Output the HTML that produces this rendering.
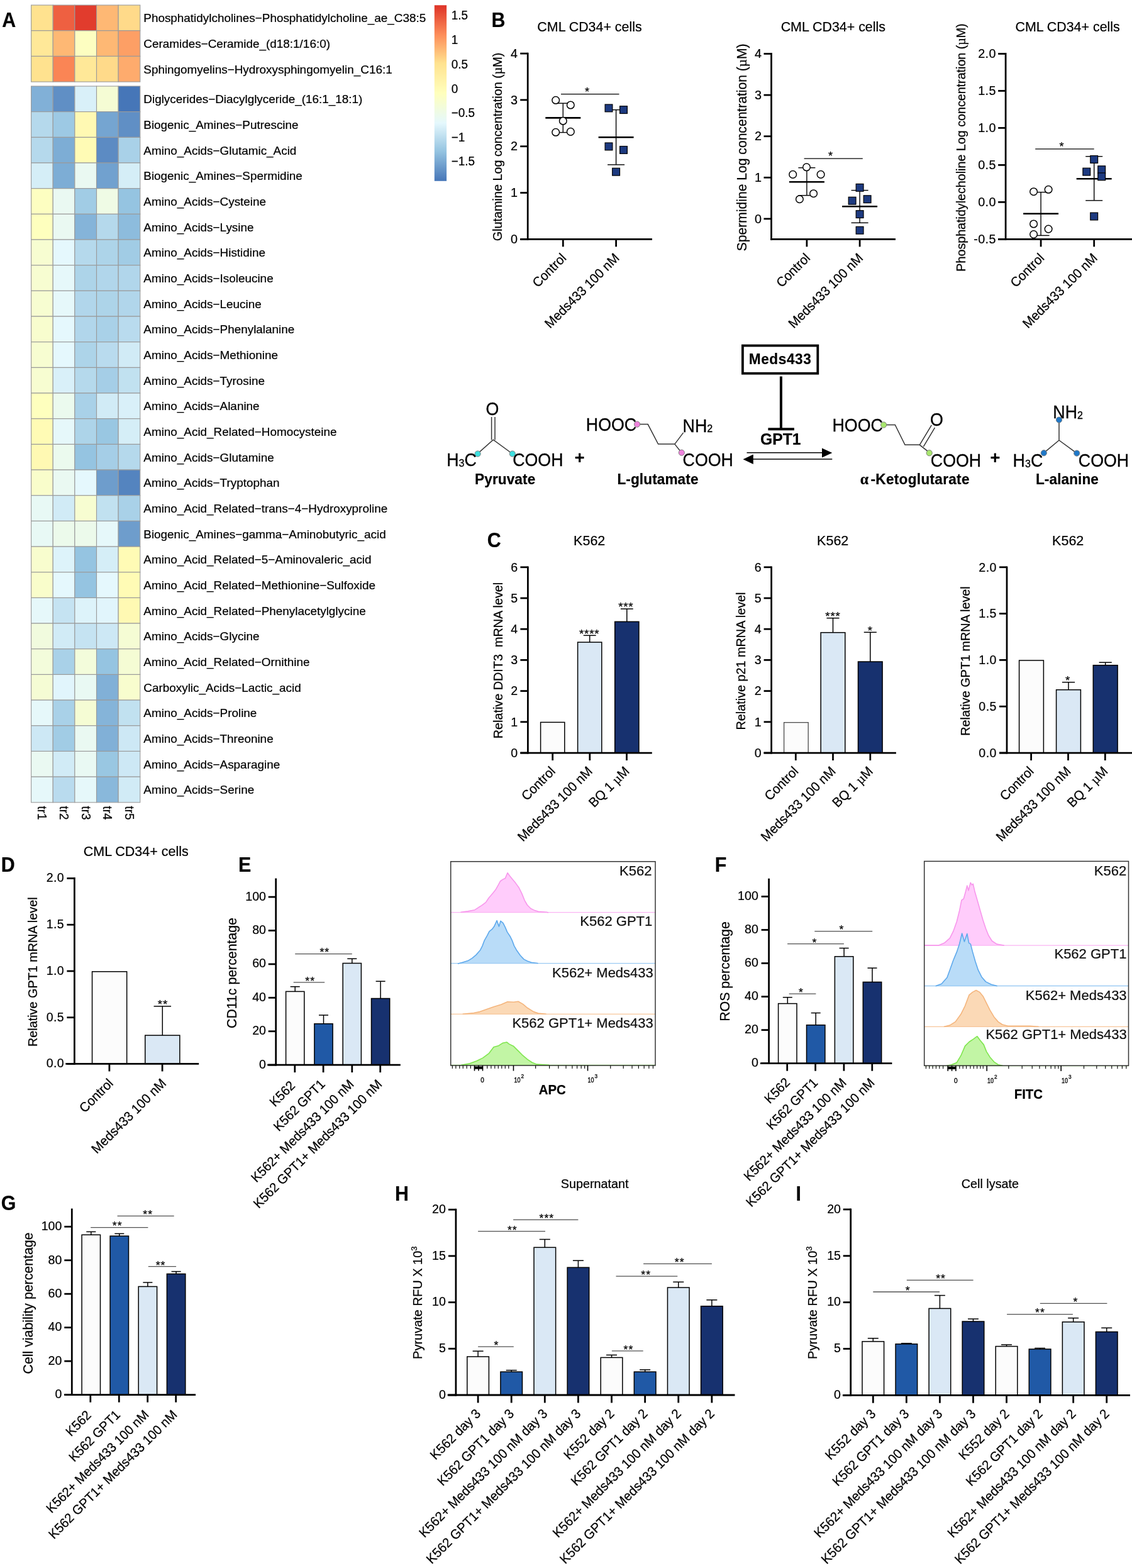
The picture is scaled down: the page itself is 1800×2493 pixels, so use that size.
<!DOCTYPE html>
<html lang="en">
<head>
<meta charset="utf-8">
<title>Figure</title>
<style>
html,body{margin:0;padding:0;background:#fff;}
body{width:1800px;height:2493px;overflow:hidden;}
svg{display:block;font-family:"Liberation Sans", sans-serif;fill:#000;}
text{stroke:#000;stroke-width:0.22px;}
</style>
</head>
<body>
<svg width="1800" height="2493" viewBox="0 0 1800 2493">
<rect width="1800" height="2493" fill="#fff"/>
<g id="panelA">
<text transform="translate(3.2 42.8) scale(1 1.08)" font-size="30.4" font-weight="bold" fill="#000">A</text>
<g stroke="#9a9a9a" stroke-width="1.1">
<rect x="49.6" y="8.1" width="34.64" height="40.67" fill="#ffe28f"/>
<rect x="84.24" y="8.1" width="34.64" height="40.67" fill="#ee6041"/>
<rect x="118.88" y="8.1" width="34.64" height="40.67" fill="#e13c2d"/>
<rect x="153.52" y="8.1" width="34.64" height="40.67" fill="#feb874"/>
<rect x="188.16" y="8.1" width="34.64" height="40.67" fill="#ffda8a"/>
<rect x="49.6" y="48.77" width="34.64" height="40.67" fill="#ffe898"/>
<rect x="84.24" y="48.77" width="34.64" height="40.67" fill="#feb874"/>
<rect x="118.88" y="48.77" width="34.64" height="40.67" fill="#fdfec1"/>
<rect x="153.52" y="48.77" width="34.64" height="40.67" fill="#feb874"/>
<rect x="188.16" y="48.77" width="34.64" height="40.67" fill="#fd9f65"/>
<rect x="49.6" y="89.43" width="34.64" height="40.67" fill="#ffe28f"/>
<rect x="84.24" y="89.43" width="34.64" height="40.67" fill="#fa8555"/>
<rect x="118.88" y="89.43" width="34.64" height="40.67" fill="#ffe898"/>
<rect x="153.52" y="89.43" width="34.64" height="40.67" fill="#ffda8a"/>
<rect x="188.16" y="89.43" width="34.64" height="40.67" fill="#feab6d"/>
<rect x="49.6" y="137" width="34.64" height="40.67" fill="#81b0d7"/>
<rect x="84.24" y="137" width="34.64" height="40.67" fill="#608fc5"/>
<rect x="118.88" y="137" width="34.64" height="40.67" fill="#d9f0f9"/>
<rect x="153.52" y="137" width="34.64" height="40.67" fill="#f5fcd4"/>
<rect x="188.16" y="137" width="34.64" height="40.67" fill="#4676b8"/>
<rect x="49.6" y="177.67" width="34.64" height="40.67" fill="#b5d9ec"/>
<rect x="84.24" y="177.67" width="34.64" height="40.67" fill="#9dc9e4"/>
<rect x="118.88" y="177.67" width="34.64" height="40.67" fill="#fff9b3"/>
<rect x="153.52" y="177.67" width="34.64" height="40.67" fill="#75a5d1"/>
<rect x="188.16" y="177.67" width="34.64" height="40.67" fill="#608fc5"/>
<rect x="49.6" y="218.34" width="34.64" height="40.67" fill="#b5d9ec"/>
<rect x="84.24" y="218.34" width="34.64" height="40.67" fill="#7dadd5"/>
<rect x="118.88" y="218.34" width="34.64" height="40.67" fill="#fffbb5"/>
<rect x="153.52" y="218.34" width="34.64" height="40.67" fill="#5c8bc3"/>
<rect x="188.16" y="218.34" width="34.64" height="40.67" fill="#a9d1e8"/>
<rect x="49.6" y="259.01" width="34.64" height="40.67" fill="#d5eef7"/>
<rect x="84.24" y="259.01" width="34.64" height="40.67" fill="#7dadd5"/>
<rect x="118.88" y="259.01" width="34.64" height="40.67" fill="#eaf9f2"/>
<rect x="153.52" y="259.01" width="34.64" height="40.67" fill="#71a1cf"/>
<rect x="188.16" y="259.01" width="34.64" height="40.67" fill="#d5eef7"/>
<rect x="49.6" y="299.69" width="34.64" height="40.67" fill="#fdfec1"/>
<rect x="84.24" y="299.69" width="34.64" height="40.67" fill="#eaf9f2"/>
<rect x="118.88" y="299.69" width="34.64" height="40.67" fill="#a1cce5"/>
<rect x="153.52" y="299.69" width="34.64" height="40.67" fill="#effbe5"/>
<rect x="188.16" y="299.69" width="34.64" height="40.67" fill="#95c4e1"/>
<rect x="49.6" y="340.36" width="34.64" height="40.67" fill="#feffbe"/>
<rect x="84.24" y="340.36" width="34.64" height="40.67" fill="#eaf9f2"/>
<rect x="118.88" y="340.36" width="34.64" height="40.67" fill="#85b4d9"/>
<rect x="153.52" y="340.36" width="34.64" height="40.67" fill="#b5d9ec"/>
<rect x="188.16" y="340.36" width="34.64" height="40.67" fill="#8dbcdd"/>
<rect x="49.6" y="381.03" width="34.64" height="40.67" fill="#f7fdd1"/>
<rect x="84.24" y="381.03" width="34.64" height="40.67" fill="#e5f8fd"/>
<rect x="118.88" y="381.03" width="34.64" height="40.67" fill="#b5d9ec"/>
<rect x="153.52" y="381.03" width="34.64" height="40.67" fill="#add4e9"/>
<rect x="188.16" y="381.03" width="34.64" height="40.67" fill="#a1cce5"/>
<rect x="49.6" y="421.7" width="34.64" height="40.67" fill="#f7fdd1"/>
<rect x="84.24" y="421.7" width="34.64" height="40.67" fill="#e6f8fa"/>
<rect x="118.88" y="421.7" width="34.64" height="40.67" fill="#add4e9"/>
<rect x="153.52" y="421.7" width="34.64" height="40.67" fill="#b1d6eb"/>
<rect x="188.16" y="421.7" width="34.64" height="40.67" fill="#b1d6eb"/>
<rect x="49.6" y="462.37" width="34.64" height="40.67" fill="#f7fdd1"/>
<rect x="84.24" y="462.37" width="34.64" height="40.67" fill="#e6f8fa"/>
<rect x="118.88" y="462.37" width="34.64" height="40.67" fill="#b1d6eb"/>
<rect x="153.52" y="462.37" width="34.64" height="40.67" fill="#add4e9"/>
<rect x="188.16" y="462.37" width="34.64" height="40.67" fill="#b1d6eb"/>
<rect x="49.6" y="503.04" width="34.64" height="40.67" fill="#f8fdce"/>
<rect x="84.24" y="503.04" width="34.64" height="40.67" fill="#e5f8fd"/>
<rect x="118.88" y="503.04" width="34.64" height="40.67" fill="#b1d6eb"/>
<rect x="153.52" y="503.04" width="34.64" height="40.67" fill="#a9d1e8"/>
<rect x="188.16" y="503.04" width="34.64" height="40.67" fill="#b9dbee"/>
<rect x="49.6" y="543.71" width="34.64" height="40.67" fill="#f7fdd1"/>
<rect x="84.24" y="543.71" width="34.64" height="40.67" fill="#e5f8fd"/>
<rect x="118.88" y="543.71" width="34.64" height="40.67" fill="#add4e9"/>
<rect x="153.52" y="543.71" width="34.64" height="40.67" fill="#b9dbee"/>
<rect x="188.16" y="543.71" width="34.64" height="40.67" fill="#d1ebf6"/>
<rect x="49.6" y="584.39" width="34.64" height="40.67" fill="#f7fdd1"/>
<rect x="84.24" y="584.39" width="34.64" height="40.67" fill="#d9f0f9"/>
<rect x="118.88" y="584.39" width="34.64" height="40.67" fill="#b5d9ec"/>
<rect x="153.52" y="584.39" width="34.64" height="40.67" fill="#a5cee7"/>
<rect x="188.16" y="584.39" width="34.64" height="40.67" fill="#c1e1f0"/>
<rect x="49.6" y="625.06" width="34.64" height="40.67" fill="#feffbe"/>
<rect x="84.24" y="625.06" width="34.64" height="40.67" fill="#ebfaee"/>
<rect x="118.88" y="625.06" width="34.64" height="40.67" fill="#a9d1e8"/>
<rect x="153.52" y="625.06" width="34.64" height="40.67" fill="#d1ebf6"/>
<rect x="188.16" y="625.06" width="34.64" height="40.67" fill="#d9f0f9"/>
<rect x="49.6" y="665.73" width="34.64" height="40.67" fill="#fffbb5"/>
<rect x="84.24" y="665.73" width="34.64" height="40.67" fill="#e6f8fa"/>
<rect x="118.88" y="665.73" width="34.64" height="40.67" fill="#add4e9"/>
<rect x="153.52" y="665.73" width="34.64" height="40.67" fill="#99c7e2"/>
<rect x="188.16" y="665.73" width="34.64" height="40.67" fill="#d5eef7"/>
<rect x="49.6" y="706.4" width="34.64" height="40.67" fill="#fff9b3"/>
<rect x="84.24" y="706.4" width="34.64" height="40.67" fill="#ebfaee"/>
<rect x="118.88" y="706.4" width="34.64" height="40.67" fill="#95c4e1"/>
<rect x="153.52" y="706.4" width="34.64" height="40.67" fill="#a5cee7"/>
<rect x="188.16" y="706.4" width="34.64" height="40.67" fill="#b5d9ec"/>
<rect x="49.6" y="747.07" width="34.64" height="40.67" fill="#f9fdcb"/>
<rect x="84.24" y="747.07" width="34.64" height="40.67" fill="#eaf9f2"/>
<rect x="118.88" y="747.07" width="34.64" height="40.67" fill="#e5f8fd"/>
<rect x="153.52" y="747.07" width="34.64" height="40.67" fill="#6e9dcc"/>
<rect x="188.16" y="747.07" width="34.64" height="40.67" fill="#5484bf"/>
<rect x="49.6" y="787.74" width="34.64" height="40.67" fill="#e8f9f5"/>
<rect x="84.24" y="787.74" width="34.64" height="40.67" fill="#d1ebf6"/>
<rect x="118.88" y="787.74" width="34.64" height="40.67" fill="#f7fdd1"/>
<rect x="153.52" y="787.74" width="34.64" height="40.67" fill="#c1e1f0"/>
<rect x="188.16" y="787.74" width="34.64" height="40.67" fill="#a9d1e8"/>
<rect x="49.6" y="828.41" width="34.64" height="40.67" fill="#e8f9f5"/>
<rect x="84.24" y="828.41" width="34.64" height="40.67" fill="#ecfaeb"/>
<rect x="118.88" y="828.41" width="34.64" height="40.67" fill="#ecfaeb"/>
<rect x="153.52" y="828.41" width="34.64" height="40.67" fill="#e6f8fa"/>
<rect x="188.16" y="828.41" width="34.64" height="40.67" fill="#6e9dcc"/>
<rect x="49.6" y="869.09" width="34.64" height="40.67" fill="#f8fdce"/>
<rect x="84.24" y="869.09" width="34.64" height="40.67" fill="#ddf3fa"/>
<rect x="118.88" y="869.09" width="34.64" height="40.67" fill="#95c4e1"/>
<rect x="153.52" y="869.09" width="34.64" height="40.67" fill="#d5eef7"/>
<rect x="188.16" y="869.09" width="34.64" height="40.67" fill="#fffbb5"/>
<rect x="49.6" y="909.76" width="34.64" height="40.67" fill="#f9fdcb"/>
<rect x="84.24" y="909.76" width="34.64" height="40.67" fill="#e5f8fd"/>
<rect x="118.88" y="909.76" width="34.64" height="40.67" fill="#95c4e1"/>
<rect x="153.52" y="909.76" width="34.64" height="40.67" fill="#e5f8fd"/>
<rect x="188.16" y="909.76" width="34.64" height="40.67" fill="#fffbb5"/>
<rect x="49.6" y="950.43" width="34.64" height="40.67" fill="#e6f8fa"/>
<rect x="84.24" y="950.43" width="34.64" height="40.67" fill="#c5e3f2"/>
<rect x="118.88" y="950.43" width="34.64" height="40.67" fill="#ddf3fa"/>
<rect x="153.52" y="950.43" width="34.64" height="40.67" fill="#e1f5fc"/>
<rect x="188.16" y="950.43" width="34.64" height="40.67" fill="#fff9b3"/>
<rect x="49.6" y="991.1" width="34.64" height="40.67" fill="#f1fbde"/>
<rect x="84.24" y="991.1" width="34.64" height="40.67" fill="#d1ebf6"/>
<rect x="118.88" y="991.1" width="34.64" height="40.67" fill="#c5e3f2"/>
<rect x="153.52" y="991.1" width="34.64" height="40.67" fill="#cde8f5"/>
<rect x="188.16" y="991.1" width="34.64" height="40.67" fill="#f5fcd4"/>
<rect x="49.6" y="1031.77" width="34.64" height="40.67" fill="#f3fcdb"/>
<rect x="84.24" y="1031.77" width="34.64" height="40.67" fill="#a9d1e8"/>
<rect x="118.88" y="1031.77" width="34.64" height="40.67" fill="#f3fcdb"/>
<rect x="153.52" y="1031.77" width="34.64" height="40.67" fill="#95c4e1"/>
<rect x="188.16" y="1031.77" width="34.64" height="40.67" fill="#f5fcd4"/>
<rect x="49.6" y="1072.44" width="34.64" height="40.67" fill="#f5fcd4"/>
<rect x="84.24" y="1072.44" width="34.64" height="40.67" fill="#e1f5fc"/>
<rect x="118.88" y="1072.44" width="34.64" height="40.67" fill="#e9f9f3"/>
<rect x="153.52" y="1072.44" width="34.64" height="40.67" fill="#81b0d7"/>
<rect x="188.16" y="1072.44" width="34.64" height="40.67" fill="#f8fdce"/>
<rect x="49.6" y="1113.11" width="34.64" height="40.67" fill="#e6f8fa"/>
<rect x="84.24" y="1113.11" width="34.64" height="40.67" fill="#a9d1e8"/>
<rect x="118.88" y="1113.11" width="34.64" height="40.67" fill="#f5fcd4"/>
<rect x="153.52" y="1113.11" width="34.64" height="40.67" fill="#85b4d9"/>
<rect x="188.16" y="1113.11" width="34.64" height="40.67" fill="#c1e1f0"/>
<rect x="49.6" y="1153.79" width="34.64" height="40.67" fill="#cde8f5"/>
<rect x="84.24" y="1153.79" width="34.64" height="40.67" fill="#a1cce5"/>
<rect x="118.88" y="1153.79" width="34.64" height="40.67" fill="#eaf9f2"/>
<rect x="153.52" y="1153.79" width="34.64" height="40.67" fill="#81b0d7"/>
<rect x="188.16" y="1153.79" width="34.64" height="40.67" fill="#cde8f5"/>
<rect x="49.6" y="1194.46" width="34.64" height="40.67" fill="#eaf9f2"/>
<rect x="84.24" y="1194.46" width="34.64" height="40.67" fill="#d1ebf6"/>
<rect x="118.88" y="1194.46" width="34.64" height="40.67" fill="#e9f9f3"/>
<rect x="153.52" y="1194.46" width="34.64" height="40.67" fill="#99c7e2"/>
<rect x="188.16" y="1194.46" width="34.64" height="40.67" fill="#cde8f5"/>
<rect x="49.6" y="1235.13" width="34.64" height="40.67" fill="#e6f8fa"/>
<rect x="84.24" y="1235.13" width="34.64" height="40.67" fill="#b9dbee"/>
<rect x="118.88" y="1235.13" width="34.64" height="40.67" fill="#e6f8fa"/>
<rect x="153.52" y="1235.13" width="34.64" height="40.67" fill="#89b8db"/>
<rect x="188.16" y="1235.13" width="34.64" height="40.67" fill="#d1ebf6"/>
</g>
<g font-size="18.9">
<text x="228.3" y="35.28">Phosphatidylcholines−Phosphatidylcholine_ae_C38:5</text>
<text x="228.3" y="75.95">Ceramides−Ceramide_(d18:1/16:0)</text>
<text x="228.3" y="116.62">Sphingomyelins−Hydroxysphingomyelin_C16:1</text>
<text x="228.3" y="164.19">Diglycerides−Diacylglyceride_(16:1_18:1)</text>
<text x="228.3" y="204.86">Biogenic_Amines−Putrescine</text>
<text x="228.3" y="245.53">Amino_Acids−Glutamic_Acid</text>
<text x="228.3" y="286.2">Biogenic_Amines−Spermidine</text>
<text x="228.3" y="326.87">Amino_Acids−Cysteine</text>
<text x="228.3" y="367.54">Amino_Acids−Lysine</text>
<text x="228.3" y="408.21">Amino_Acids−Histidine</text>
<text x="228.3" y="448.89">Amino_Acids−Isoleucine</text>
<text x="228.3" y="489.56">Amino_Acids−Leucine</text>
<text x="228.3" y="530.23">Amino_Acids−Phenylalanine</text>
<text x="228.3" y="570.9">Amino_Acids−Methionine</text>
<text x="228.3" y="611.57">Amino_Acids−Tyrosine</text>
<text x="228.3" y="652.24">Amino_Acids−Alanine</text>
<text x="228.3" y="692.91">Amino_Acid_Related−Homocysteine</text>
<text x="228.3" y="733.59">Amino_Acids−Glutamine</text>
<text x="228.3" y="774.26">Amino_Acids−Tryptophan</text>
<text x="228.3" y="814.93">Amino_Acid_Related−trans−4−Hydroxyproline</text>
<text x="228.3" y="855.6">Biogenic_Amines−gamma−Aminobutyric_acid</text>
<text x="228.3" y="896.27">Amino_Acid_Related−5−Aminovaleric_acid</text>
<text x="228.3" y="936.94">Amino_Acid_Related−Methionine−Sulfoxide</text>
<text x="228.3" y="977.61">Amino_Acid_Related−Phenylacetylglycine</text>
<text x="228.3" y="1018.29">Amino_Acids−Glycine</text>
<text x="228.3" y="1058.96">Amino_Acid_Related−Ornithine</text>
<text x="228.3" y="1099.63">Carboxylic_Acids−Lactic_acid</text>
<text x="228.3" y="1140.3">Amino_Acids−Proline</text>
<text x="228.3" y="1180.97">Amino_Acids−Threonine</text>
<text x="228.3" y="1221.64">Amino_Acids−Asparagine</text>
<text x="228.3" y="1262.31">Amino_Acids−Serine</text>
</g>
<text transform="translate(60.42 1281.5) rotate(90) scale(1 1.04)" font-size="18.9">tr1</text>
<text transform="translate(95.06 1281.5) rotate(90) scale(1 1.04)" font-size="18.9">tr2</text>
<text transform="translate(129.7 1281.5) rotate(90) scale(1 1.04)" font-size="18.9">tr3</text>
<text transform="translate(164.34 1281.5) rotate(90) scale(1 1.04)" font-size="18.9">tr4</text>
<text transform="translate(198.98 1281.5) rotate(90) scale(1 1.04)" font-size="18.9">tr5</text>
<defs><linearGradient id="lg" x1="0" y1="0" x2="0" y2="1">
<stop offset="0" stop-color="#DE3328"/>
<stop offset="0.17" stop-color="#FD8E5A"/>
<stop offset="0.33" stop-color="#FFE28F"/>
<stop offset="0.5" stop-color="#FFFFBC"/>
<stop offset="0.67" stop-color="#E5F8FD"/>
<stop offset="0.83" stop-color="#95C4E1"/>
<stop offset="1" stop-color="#4676B8"/>
</linearGradient></defs>
<rect x="690.8" y="8.3" width="19.3" height="279.5" fill="url(#lg)"/>
<text transform="translate(717.8 31.4) scale(1 1.04)" font-size="18.9">1.5</text>
<text transform="translate(717.8 70.2) scale(1 1.04)" font-size="18.9">1</text>
<text transform="translate(717.8 108.6) scale(1 1.04)" font-size="18.9">0.5</text>
<text transform="translate(717.8 147.5) scale(1 1.04)" font-size="18.9">0</text>
<text transform="translate(717.8 186.4) scale(1 1.04)" font-size="18.9">−0.5</text>
<text transform="translate(717.8 224.8) scale(1 1.04)" font-size="18.9">−1</text>
<text transform="translate(717.8 263.3) scale(1 1.04)" font-size="18.9">−1.5</text>
</g>
<g id="panelB">
<text transform="translate(781.6 43) scale(1 1.08)" font-size="30.4" font-weight="bold" fill="#000">B</text>
<line x1="895.3" y1="164.2" x2="895.3" y2="210.6" stroke="#000" stroke-width="1.4"/>
<line x1="881.8" y1="164.2" x2="908.8" y2="164.2" stroke="#000" stroke-width="1.4"/>
<line x1="881.8" y1="210.6" x2="908.8" y2="210.6" stroke="#000" stroke-width="1.4"/>
<line x1="867.3" y1="187.4" x2="923.3" y2="187.4" stroke="#000" stroke-width="2.6"/>
<line x1="979.6" y1="174.6" x2="979.6" y2="261.9" stroke="#000" stroke-width="1.4"/>
<line x1="966.1" y1="174.6" x2="993.1" y2="174.6" stroke="#000" stroke-width="1.4"/>
<line x1="966.1" y1="261.9" x2="993.1" y2="261.9" stroke="#000" stroke-width="1.4"/>
<line x1="951.6" y1="218.3" x2="1007.6" y2="218.3" stroke="#000" stroke-width="2.6"/>
<circle cx="883.7" cy="159.3" r="5.8" fill="#fff" stroke="#000" stroke-width="1.5"/>
<circle cx="907.3" cy="167" r="5.8" fill="#fff" stroke="#000" stroke-width="1.5"/>
<circle cx="895.3" cy="192.3" r="5.8" fill="#fff" stroke="#000" stroke-width="1.5"/>
<circle cx="883.7" cy="210.3" r="5.8" fill="#fff" stroke="#000" stroke-width="1.5"/>
<circle cx="907.3" cy="209.4" r="5.8" fill="#fff" stroke="#000" stroke-width="1.5"/>
<rect x="962.1" y="166" width="11.8" height="11.8" fill="#1d3a80" stroke="#000" stroke-width="1.2"/>
<rect x="985.6" y="168.7" width="11.8" height="11.8" fill="#1d3a80" stroke="#000" stroke-width="1.2"/>
<rect x="962.1" y="227" width="11.8" height="11.8" fill="#1d3a80" stroke="#000" stroke-width="1.2"/>
<rect x="985.6" y="232.5" width="11.8" height="11.8" fill="#1d3a80" stroke="#000" stroke-width="1.2"/>
<rect x="973.7" y="267.3" width="11.8" height="11.8" fill="#1d3a80" stroke="#000" stroke-width="1.2"/>
<line x1="839.2" y1="83.72" x2="839.2" y2="381.68" stroke="#000" stroke-width="2.75"/>
<line x1="827.2" y1="380.3" x2="1037" y2="380.3" stroke="#000" stroke-width="2.75"/>
<line x1="827.2" y1="85.1" x2="839.2" y2="85.1" stroke="#000" stroke-width="2.75"/>
<text transform="translate(823 91.89) scale(1 1.04)" font-size="19.8" text-anchor="end">4</text>
<line x1="827.2" y1="158.9" x2="839.2" y2="158.9" stroke="#000" stroke-width="2.75"/>
<text transform="translate(823 165.69) scale(1 1.04)" font-size="19.8" text-anchor="end">3</text>
<line x1="827.2" y1="232.7" x2="839.2" y2="232.7" stroke="#000" stroke-width="2.75"/>
<text transform="translate(823 239.49) scale(1 1.04)" font-size="19.8" text-anchor="end">2</text>
<line x1="827.2" y1="306.5" x2="839.2" y2="306.5" stroke="#000" stroke-width="2.75"/>
<text transform="translate(823 313.29) scale(1 1.04)" font-size="19.8" text-anchor="end">1</text>
<line x1="827.2" y1="380.3" x2="839.2" y2="380.3" stroke="#000" stroke-width="2.75"/>
<text transform="translate(823 387.09) scale(1 1.04)" font-size="19.8" text-anchor="end">0</text>
<line x1="895.3" y1="380.3" x2="895.3" y2="392.3" stroke="#000" stroke-width="2.75"/>
<line x1="979.6" y1="380.3" x2="979.6" y2="392.3" stroke="#000" stroke-width="2.75"/>
<line x1="892" y1="149.6" x2="984.5" y2="149.6" stroke="#000" stroke-width="1.3"/>
<text transform="translate(934 151.7)" font-size="18.2" text-anchor="middle" letter-spacing="1">*</text>
<text transform="translate(937.5 50) scale(1 1.04)" font-size="21.4" text-anchor="middle">CML CD34+ cells</text>
<text transform="translate(797.7 233.5) rotate(-90) scale(1 1.04)" font-size="19.8" text-anchor="middle">Glutamine Log concentration (<tspan font-family="'Liberation Serif', 'DejaVu Serif', serif">µ</tspan>M)</text>
<text transform="translate(901.8 411.6) rotate(-45) scale(1 1.04)" font-size="20.4" text-anchor="end">Control</text>
<text transform="translate(986.1 411.6) rotate(-45) scale(1 1.04)" font-size="20.4" text-anchor="end">Meds433 100 nM</text>
<line x1="1282.9" y1="266.7" x2="1282.9" y2="310.7" stroke="#000" stroke-width="1.4"/>
<line x1="1269.4" y1="266.7" x2="1296.4" y2="266.7" stroke="#000" stroke-width="1.4"/>
<line x1="1269.4" y1="310.7" x2="1296.4" y2="310.7" stroke="#000" stroke-width="1.4"/>
<line x1="1254.9" y1="289.3" x2="1310.9" y2="289.3" stroke="#000" stroke-width="2.6"/>
<line x1="1367.1" y1="302.6" x2="1367.1" y2="354.3" stroke="#000" stroke-width="1.4"/>
<line x1="1353.6" y1="302.6" x2="1380.6" y2="302.6" stroke="#000" stroke-width="1.4"/>
<line x1="1353.6" y1="354.3" x2="1380.6" y2="354.3" stroke="#000" stroke-width="1.4"/>
<line x1="1339.1" y1="328.2" x2="1395.1" y2="328.2" stroke="#000" stroke-width="2.6"/>
<circle cx="1282.5" cy="265.8" r="5.8" fill="#fff" stroke="#000" stroke-width="1.5"/>
<circle cx="1260.7" cy="277.4" r="5.8" fill="#fff" stroke="#000" stroke-width="1.5"/>
<circle cx="1305.1" cy="277.4" r="5.8" fill="#fff" stroke="#000" stroke-width="1.5"/>
<circle cx="1293.6" cy="307.7" r="5.8" fill="#fff" stroke="#000" stroke-width="1.5"/>
<circle cx="1271.4" cy="316.7" r="5.8" fill="#fff" stroke="#000" stroke-width="1.5"/>
<rect x="1361.2" y="292.4" width="11.8" height="11.8" fill="#1d3a80" stroke="#000" stroke-width="1.2"/>
<rect x="1349.2" y="313.3" width="11.8" height="11.8" fill="#1d3a80" stroke="#000" stroke-width="1.2"/>
<rect x="1373.2" y="310.8" width="11.8" height="11.8" fill="#1d3a80" stroke="#000" stroke-width="1.2"/>
<rect x="1361.2" y="334.7" width="11.8" height="11.8" fill="#1d3a80" stroke="#000" stroke-width="1.2"/>
<rect x="1361.2" y="360.3" width="11.8" height="11.8" fill="#1d3a80" stroke="#000" stroke-width="1.2"/>
<line x1="1226.5" y1="84.12" x2="1226.5" y2="381.68" stroke="#000" stroke-width="2.75"/>
<line x1="1225.2" y1="380.3" x2="1424" y2="380.3" stroke="#000" stroke-width="2.75"/>
<line x1="1214.5" y1="85.5" x2="1226.5" y2="85.5" stroke="#000" stroke-width="2.75"/>
<text transform="translate(1211 92.29) scale(1 1.04)" font-size="19.8" text-anchor="end">4</text>
<line x1="1214.5" y1="151.1" x2="1226.5" y2="151.1" stroke="#000" stroke-width="2.75"/>
<text transform="translate(1211 157.89) scale(1 1.04)" font-size="19.8" text-anchor="end">3</text>
<line x1="1214.5" y1="216.7" x2="1226.5" y2="216.7" stroke="#000" stroke-width="2.75"/>
<text transform="translate(1211 223.49) scale(1 1.04)" font-size="19.8" text-anchor="end">2</text>
<line x1="1214.5" y1="282.3" x2="1226.5" y2="282.3" stroke="#000" stroke-width="2.75"/>
<text transform="translate(1211 289.09) scale(1 1.04)" font-size="19.8" text-anchor="end">1</text>
<line x1="1214.5" y1="347.9" x2="1226.5" y2="347.9" stroke="#000" stroke-width="2.75"/>
<text transform="translate(1211 354.69) scale(1 1.04)" font-size="19.8" text-anchor="end">0</text>
<line x1="1282.9" y1="380.3" x2="1282.9" y2="392.3" stroke="#000" stroke-width="2.75"/>
<line x1="1367.1" y1="380.3" x2="1367.1" y2="392.3" stroke="#000" stroke-width="2.75"/>
<line x1="1278.6" y1="252.1" x2="1371.8" y2="252.1" stroke="#000" stroke-width="1.3"/>
<text transform="translate(1321 254.2)" font-size="18.2" text-anchor="middle" letter-spacing="1">*</text>
<text transform="translate(1324.8 50) scale(1 1.04)" font-size="21.4" text-anchor="middle">CML CD34+ cells</text>
<text transform="translate(1186.5 234.3) rotate(-90) scale(1 1.04)" font-size="21.1" text-anchor="middle">Spermidine Log concentration (<tspan font-family="'Liberation Serif', 'DejaVu Serif', serif">µ</tspan>M)</text>
<text transform="translate(1289.4 411.6) rotate(-45) scale(1 1.04)" font-size="20.4" text-anchor="end">Control</text>
<text transform="translate(1373.6 411.6) rotate(-45) scale(1 1.04)" font-size="20.4" text-anchor="end">Meds433 100 nM</text>
<line x1="1655.1" y1="305.6" x2="1655.1" y2="374.4" stroke="#000" stroke-width="1.4"/>
<line x1="1641.6" y1="305.6" x2="1668.6" y2="305.6" stroke="#000" stroke-width="1.4"/>
<line x1="1641.6" y1="374.4" x2="1668.6" y2="374.4" stroke="#000" stroke-width="1.4"/>
<line x1="1627.1" y1="339.7" x2="1683.1" y2="339.7" stroke="#000" stroke-width="2.6"/>
<line x1="1739.7" y1="248.7" x2="1739.7" y2="318.8" stroke="#000" stroke-width="1.4"/>
<line x1="1726.2" y1="248.7" x2="1753.2" y2="248.7" stroke="#000" stroke-width="1.4"/>
<line x1="1726.2" y1="318.8" x2="1753.2" y2="318.8" stroke="#000" stroke-width="1.4"/>
<line x1="1711.7" y1="284.2" x2="1767.7" y2="284.2" stroke="#000" stroke-width="2.6"/>
<circle cx="1643.6" cy="304.7" r="5.8" fill="#fff" stroke="#000" stroke-width="1.5"/>
<circle cx="1667.1" cy="301.3" r="5.8" fill="#fff" stroke="#000" stroke-width="1.5"/>
<circle cx="1643.6" cy="356" r="5.8" fill="#fff" stroke="#000" stroke-width="1.5"/>
<circle cx="1667.1" cy="364.1" r="5.8" fill="#fff" stroke="#000" stroke-width="1.5"/>
<circle cx="1643.6" cy="372.6" r="5.8" fill="#fff" stroke="#000" stroke-width="1.5"/>
<rect x="1733.8" y="247.5" width="11.8" height="11.8" fill="#1d3a80" stroke="#000" stroke-width="1.2"/>
<rect x="1721.9" y="267.2" width="11.8" height="11.8" fill="#1d3a80" stroke="#000" stroke-width="1.2"/>
<rect x="1745.8" y="263.8" width="11.8" height="11.8" fill="#1d3a80" stroke="#000" stroke-width="1.2"/>
<rect x="1745.8" y="274.9" width="11.8" height="11.8" fill="#1d3a80" stroke="#000" stroke-width="1.2"/>
<rect x="1733.8" y="338.1" width="11.8" height="11.8" fill="#1d3a80" stroke="#000" stroke-width="1.2"/>
<line x1="1599.1" y1="84.12" x2="1599.1" y2="381.68" stroke="#000" stroke-width="2.75"/>
<line x1="1587.1" y1="380.3" x2="1800" y2="380.3" stroke="#000" stroke-width="2.75"/>
<line x1="1587.1" y1="85.5" x2="1599.1" y2="85.5" stroke="#000" stroke-width="2.75"/>
<text transform="translate(1583.9 92.29) scale(1 1.04)" font-size="19.8" text-anchor="end" letter-spacing="0.4">2.0</text>
<line x1="1587.1" y1="144.46" x2="1599.1" y2="144.46" stroke="#000" stroke-width="2.75"/>
<text transform="translate(1583.9 151.25) scale(1 1.04)" font-size="19.8" text-anchor="end" letter-spacing="0.4">1.5</text>
<line x1="1587.1" y1="203.42" x2="1599.1" y2="203.42" stroke="#000" stroke-width="2.75"/>
<text transform="translate(1583.9 210.21) scale(1 1.04)" font-size="19.8" text-anchor="end" letter-spacing="0.4">1.0</text>
<line x1="1587.1" y1="262.38" x2="1599.1" y2="262.38" stroke="#000" stroke-width="2.75"/>
<text transform="translate(1583.9 269.17) scale(1 1.04)" font-size="19.8" text-anchor="end" letter-spacing="0.4">0.5</text>
<line x1="1587.1" y1="321.34" x2="1599.1" y2="321.34" stroke="#000" stroke-width="2.75"/>
<text transform="translate(1583.9 328.13) scale(1 1.04)" font-size="19.8" text-anchor="end" letter-spacing="0.4">0.0</text>
<line x1="1587.1" y1="380.3" x2="1599.1" y2="380.3" stroke="#000" stroke-width="2.75"/>
<text transform="translate(1583.9 387.09) scale(1 1.04)" font-size="19.8" text-anchor="end" letter-spacing="0.4">-0.5</text>
<line x1="1655.1" y1="380.3" x2="1655.1" y2="392.3" stroke="#000" stroke-width="2.75"/>
<line x1="1739.7" y1="380.3" x2="1739.7" y2="392.3" stroke="#000" stroke-width="2.75"/>
<line x1="1646.2" y1="236.8" x2="1739.7" y2="236.8" stroke="#000" stroke-width="1.3"/>
<text transform="translate(1688.5 238.9)" font-size="18.2" text-anchor="middle" letter-spacing="1">*</text>
<text transform="translate(1697.6 50) scale(1 1.04)" font-size="21.4" text-anchor="middle">CML CD34+ cells</text>
<text transform="translate(1534.6 234.5) rotate(-90) scale(1 1.04)" font-size="19.7" text-anchor="middle">Phosphatidylecholine Log concentration (<tspan font-family="'Liberation Serif', 'DejaVu Serif', serif">µ</tspan>M)</text>
<text transform="translate(1661.6 411.6) rotate(-45) scale(1 1.04)" font-size="20.4" text-anchor="end">Control</text>
<text transform="translate(1746.2 411.6) rotate(-45) scale(1 1.04)" font-size="20.4" text-anchor="end">Meds433 100 nM</text>
</g>
<g id="chem">
<text transform="translate(783 659.5) scale(0.93 1)" font-size="28.8" style="stroke-width:0.3px" text-anchor="middle">O</text>
<line x1="781.6" y1="663" x2="781.6" y2="699.5" stroke="#333" stroke-width="1.5"/>
<line x1="787" y1="663" x2="787" y2="699.5" stroke="#333" stroke-width="1.5"/>
<path d="M760.1 720.8 L784.3 699.2 L814.8 721.5" fill="none" stroke="#333" stroke-width="1.5"/>
<circle cx="759.6" cy="721.5" r="4.6" fill="#3ddede" stroke="#777" stroke-width="0.9"/>
<circle cx="814.8" cy="721.5" r="4.6" fill="#3ddede" stroke="#777" stroke-width="0.9"/>
<text transform="translate(710.2 741.2) scale(0.93 1)" font-size="28.8" style="stroke-width:0.3px">H<tspan font-size="17.28" dy="0.8">3</tspan><tspan dy="-0.8">C</tspan></text>
<text transform="translate(815.2 741.2) scale(0.93 1)" font-size="28.8" style="stroke-width:0.3px">COOH</text>
<text transform="translate(803.2 770.4) scale(1 1.04)" font-size="22.6" text-anchor="middle" font-weight="bold" letter-spacing="0.1" fill="#000">Pyruvate</text>
<text transform="translate(921.5 736.6) scale(1 1.04)" font-size="27" text-anchor="middle" font-weight="bold" fill="#000">+</text>
<text transform="translate(931.8 684.6) scale(0.93 1)" font-size="28.8" style="stroke-width:0.3px">HOOC</text>
<path d="M1014 674.6 L1030.2 674.6 L1046.6 706.1 L1072.9 706.1 L1086.6 687.9 M1072.9 706.1 L1083.5 719.5" fill="none" stroke="#333" stroke-width="1.5"/>
<circle cx="1013.1" cy="674.6" r="4.6" fill="#ee82dc" stroke="#777" stroke-width="0.9"/>
<circle cx="1083.8" cy="719.7" r="4.6" fill="#ee82dc" stroke="#777" stroke-width="0.9"/>
<text transform="translate(1085.6 686.6) scale(0.93 1)" font-size="28.8" style="stroke-width:0.3px">NH<tspan font-size="17.28" dy="0.8">2</tspan><tspan dy="-0.8"></tspan></text>
<text transform="translate(1085.6 741.2) scale(0.93 1)" font-size="28.8" style="stroke-width:0.3px">COOH</text>
<text transform="translate(1046 770.4) scale(1 1.04)" font-size="22.6" text-anchor="middle" font-weight="bold" letter-spacing="0.1" fill="#000">L-glutamate</text>
<rect x="1180.9" y="549.5" width="119.4" height="44.2" fill="#fff" stroke="#000" stroke-width="3.8"/>
<text transform="translate(1240.6 579.2) scale(1 1.04)" font-size="22.6" text-anchor="middle" font-weight="bold" letter-spacing="0.6" fill="#000">Meds433</text>
<line x1="1241.9" y1="598.5" x2="1241.9" y2="682.3" stroke="#000" stroke-width="4"/>
<line x1="1221.4" y1="682.3" x2="1262.9" y2="682.3" stroke="#000" stroke-width="4"/>
<text transform="translate(1241.2 706.5) scale(1 1.04)" font-size="24.7" text-anchor="middle" font-weight="bold" fill="#000">GPT1</text>
<line x1="1187.5" y1="719.8" x2="1309" y2="719.8" stroke="#000" stroke-width="1.5"/>
<path d="M1323.3 719.9 L1307 712.4 L1307 727.4 Z" fill="#000" stroke="none" stroke-width="0"/>
<line x1="1196.4" y1="729.9" x2="1323.3" y2="729.9" stroke="#000" stroke-width="1.5"/>
<path d="M1181.5 730.2 L1197.8 722.6 L1197.8 737.9 Z" fill="#000" stroke="none" stroke-width="0"/>
<text transform="translate(1323.5 686) scale(0.93 1)" font-size="28.8" style="stroke-width:0.3px">HOOC</text>
<path d="M1406 675.5 L1423.3 675.5 L1439 707.3 L1462.3 707.3 L1477.7 719.4 M1462.3 707.3 L1481.3 675.9 M1468.4 710.1 L1486.5 679.9" fill="none" stroke="#333" stroke-width="1.5"/>
<circle cx="1405.1" cy="675.5" r="4.6" fill="#a8e66e" stroke="#777" stroke-width="0.9"/>
<circle cx="1477.7" cy="720.2" r="4.6" fill="#a8e66e" stroke="#777" stroke-width="0.9"/>
<text transform="translate(1489.3 676.6) scale(0.93 1)" font-size="28.8" style="stroke-width:0.3px" text-anchor="middle">O</text>
<text transform="translate(1479.8 741.9) scale(0.93 1)" font-size="28.8" style="stroke-width:0.3px">COOH</text>
<text transform="translate(1367.8 770.4) scale(1 1.04)" font-size="22.6" font-weight="bold" letter-spacing="0.3" fill="#000"><tspan font-family="'Liberation Serif', 'DejaVu Serif', serif" font-weight="bold" font-size="24">α</tspan><tspan dx="3">-Ketoglutarate</tspan></text>
<text transform="translate(1582.4 736.6) scale(1 1.04)" font-size="27" text-anchor="middle" font-weight="bold" fill="#000">+</text>
<text transform="translate(1674.3 665) scale(0.93 1)" font-size="28.8" style="stroke-width:0.3px">NH<tspan font-size="17.28" dy="0.8">2</tspan><tspan dy="-0.8"></tspan></text>
<path d="M1684 667.4 L1684 700 L1659.8 720.2 M1684 700 L1712.2 720.6" fill="none" stroke="#333" stroke-width="1.5"/>
<circle cx="1684" cy="667.6" r="4.6" fill="#1f78c8" stroke="#777" stroke-width="0.9"/>
<circle cx="1659.8" cy="720.2" r="4.6" fill="#1f78c8" stroke="#777" stroke-width="0.9"/>
<circle cx="1712.2" cy="720.6" r="4.6" fill="#1f78c8" stroke="#777" stroke-width="0.9"/>
<text transform="translate(1610.6 741.9) scale(0.93 1)" font-size="28.8" style="stroke-width:0.3px">H<tspan font-size="17.28" dy="0.8">3</tspan><tspan dy="-0.8">C</tspan></text>
<text transform="translate(1714.8 741.9) scale(0.93 1)" font-size="28.8" style="stroke-width:0.3px">COOH</text>
<text transform="translate(1697 770.4) scale(1 1.04)" font-size="22.6" text-anchor="middle" font-weight="bold" letter-spacing="0.1" fill="#000">L-alanine</text>
</g>
<g id="panelC">
<text transform="translate(774.8 870.3) scale(1 1.08)" font-size="30.4" font-weight="bold" fill="#000">C</text>
<rect x="859.6" y="1148.4" width="38.2" height="48.6" fill="#fcfcfc" stroke="#000" stroke-width="1.5"/>
<line x1="937.7" y1="1010.3" x2="937.7" y2="1021.1" stroke="#000" stroke-width="1.5"/>
<line x1="927.77" y1="1010.3" x2="947.63" y2="1010.3" stroke="#000" stroke-width="1.5"/>
<rect x="918.6" y="1021.1" width="38.2" height="175.9" fill="#dae8f5" stroke="#000" stroke-width="1.5"/>
<line x1="996.8" y1="968.1" x2="996.8" y2="988.4" stroke="#000" stroke-width="1.5"/>
<line x1="986.87" y1="968.1" x2="1006.73" y2="968.1" stroke="#000" stroke-width="1.5"/>
<rect x="977.7" y="988.4" width="38.2" height="208.6" fill="#17316f" stroke="#000" stroke-width="1.5"/>
<line x1="839.4" y1="900.42" x2="839.4" y2="1198.38" stroke="#000" stroke-width="2.75"/>
<line x1="827.3" y1="1197" x2="1036.8" y2="1197" stroke="#000" stroke-width="2.75"/>
<line x1="827.4" y1="901.8" x2="839.4" y2="901.8" stroke="#000" stroke-width="2.75"/>
<text transform="translate(823.2 908.62) scale(1 1.04)" font-size="19.6" text-anchor="end">6</text>
<line x1="827.4" y1="951" x2="839.4" y2="951" stroke="#000" stroke-width="2.75"/>
<text transform="translate(823.2 957.82) scale(1 1.04)" font-size="19.6" text-anchor="end">5</text>
<line x1="827.4" y1="1000.2" x2="839.4" y2="1000.2" stroke="#000" stroke-width="2.75"/>
<text transform="translate(823.2 1007.02) scale(1 1.04)" font-size="19.6" text-anchor="end">4</text>
<line x1="827.4" y1="1049.4" x2="839.4" y2="1049.4" stroke="#000" stroke-width="2.75"/>
<text transform="translate(823.2 1056.22) scale(1 1.04)" font-size="19.6" text-anchor="end">3</text>
<line x1="827.4" y1="1098.6" x2="839.4" y2="1098.6" stroke="#000" stroke-width="2.75"/>
<text transform="translate(823.2 1105.42) scale(1 1.04)" font-size="19.6" text-anchor="end">2</text>
<line x1="827.4" y1="1147.8" x2="839.4" y2="1147.8" stroke="#000" stroke-width="2.75"/>
<text transform="translate(823.2 1154.62) scale(1 1.04)" font-size="19.6" text-anchor="end">1</text>
<line x1="827.4" y1="1197" x2="839.4" y2="1197" stroke="#000" stroke-width="2.75"/>
<text transform="translate(823.2 1203.82) scale(1 1.04)" font-size="19.6" text-anchor="end">0</text>
<line x1="878.7" y1="1197" x2="878.7" y2="1209" stroke="#000" stroke-width="2.75"/>
<line x1="937.8" y1="1197" x2="937.8" y2="1209" stroke="#000" stroke-width="2.75"/>
<line x1="996.5" y1="1197" x2="996.5" y2="1209" stroke="#000" stroke-width="2.75"/>
<text transform="translate(937.2 1014.32)" font-size="18.8" text-anchor="middle" letter-spacing="0.8">****</text>
<text transform="translate(995.3 970.82)" font-size="18.8" text-anchor="middle" letter-spacing="0.8">***</text>
<text transform="translate(937.2 867.4) scale(1 1.04)" font-size="21.5" text-anchor="middle">K562</text>
<text transform="translate(798.5 1050) rotate(-90) scale(1 1.04)" font-size="19.8" text-anchor="middle">Relative DDIT3  mRNA level</text>
<text transform="translate(884.1 1227.6) rotate(-45) scale(1 1.04)" font-size="20.4" text-anchor="end">Control</text>
<text transform="translate(943.2 1227.6) rotate(-45) scale(1 1.04)" font-size="20.4" text-anchor="end">Meds433 100 nM</text>
<text transform="translate(1001.9 1227.6) rotate(-45) scale(1 1.04)" font-size="20.4" text-anchor="end">BQ 1 <tspan font-family="'Liberation Serif', 'DejaVu Serif', serif">µ</tspan>M</text>
<rect x="1246.6" y="1148.7" width="38.6" height="48.3" fill="#fcfcfc" stroke="#4a4a4a" stroke-width="1.3"/>
<line x1="1324.5" y1="982.7" x2="1324.5" y2="1005.7" stroke="#000" stroke-width="1.5"/>
<line x1="1314.46" y1="982.7" x2="1334.54" y2="982.7" stroke="#000" stroke-width="1.5"/>
<rect x="1305.2" y="1005.7" width="38.6" height="191.3" fill="#dae8f5" stroke="#000" stroke-width="1.5"/>
<line x1="1383.8" y1="1005.3" x2="1383.8" y2="1052" stroke="#000" stroke-width="1.5"/>
<line x1="1373.76" y1="1005.3" x2="1393.84" y2="1005.3" stroke="#000" stroke-width="1.5"/>
<rect x="1364.5" y="1052" width="38.6" height="145" fill="#17316f" stroke="#000" stroke-width="1.5"/>
<line x1="1226.6" y1="900.42" x2="1226.6" y2="1198.38" stroke="#000" stroke-width="2.75"/>
<line x1="1214.5" y1="1197" x2="1424.9" y2="1197" stroke="#000" stroke-width="2.75"/>
<line x1="1214.6" y1="901.8" x2="1226.6" y2="901.8" stroke="#000" stroke-width="2.75"/>
<text transform="translate(1210.6 908.62) scale(1 1.04)" font-size="19.6" text-anchor="end">6</text>
<line x1="1214.6" y1="951" x2="1226.6" y2="951" stroke="#000" stroke-width="2.75"/>
<text transform="translate(1210.6 957.82) scale(1 1.04)" font-size="19.6" text-anchor="end">5</text>
<line x1="1214.6" y1="1000.2" x2="1226.6" y2="1000.2" stroke="#000" stroke-width="2.75"/>
<text transform="translate(1210.6 1007.02) scale(1 1.04)" font-size="19.6" text-anchor="end">4</text>
<line x1="1214.6" y1="1049.4" x2="1226.6" y2="1049.4" stroke="#000" stroke-width="2.75"/>
<text transform="translate(1210.6 1056.22) scale(1 1.04)" font-size="19.6" text-anchor="end">3</text>
<line x1="1214.6" y1="1098.6" x2="1226.6" y2="1098.6" stroke="#000" stroke-width="2.75"/>
<text transform="translate(1210.6 1105.42) scale(1 1.04)" font-size="19.6" text-anchor="end">2</text>
<line x1="1214.6" y1="1147.8" x2="1226.6" y2="1147.8" stroke="#000" stroke-width="2.75"/>
<text transform="translate(1210.6 1154.62) scale(1 1.04)" font-size="19.6" text-anchor="end">1</text>
<line x1="1214.6" y1="1197" x2="1226.6" y2="1197" stroke="#000" stroke-width="2.75"/>
<text transform="translate(1210.6 1203.82) scale(1 1.04)" font-size="19.6" text-anchor="end">0</text>
<line x1="1265.3" y1="1197" x2="1265.3" y2="1209" stroke="#000" stroke-width="2.75"/>
<line x1="1324.5" y1="1197" x2="1324.5" y2="1209" stroke="#000" stroke-width="2.75"/>
<line x1="1383.8" y1="1197" x2="1383.8" y2="1209" stroke="#000" stroke-width="2.75"/>
<text transform="translate(1324.5 985.62)" font-size="18.8" text-anchor="middle" letter-spacing="0.8">***</text>
<text transform="translate(1383.8 1008.92)" font-size="18.8" text-anchor="middle" letter-spacing="0.8">*</text>
<text transform="translate(1324.2 867.4) scale(1 1.04)" font-size="21.5" text-anchor="middle">K562</text>
<text transform="translate(1185.2 1051) rotate(-90) scale(1 1.04)" font-size="19.8" text-anchor="middle">Relative p21 mRNA level</text>
<text transform="translate(1270.7 1227.6) rotate(-45) scale(1 1.04)" font-size="20.4" text-anchor="end">Control</text>
<text transform="translate(1329.9 1227.6) rotate(-45) scale(1 1.04)" font-size="20.4" text-anchor="end">Meds433 100 nM</text>
<text transform="translate(1389.2 1227.6) rotate(-45) scale(1 1.04)" font-size="20.4" text-anchor="end">BQ 1 <tspan font-family="'Liberation Serif', 'DejaVu Serif', serif">µ</tspan>M</text>
<rect x="1620.6" y="1050" width="38.8" height="147" fill="#fcfcfc" stroke="#000" stroke-width="1.5"/>
<line x1="1699" y1="1084.7" x2="1699" y2="1096.7" stroke="#000" stroke-width="1.5"/>
<line x1="1688.91" y1="1084.7" x2="1709.09" y2="1084.7" stroke="#000" stroke-width="1.5"/>
<rect x="1679.6" y="1096.7" width="38.8" height="100.3" fill="#dae8f5" stroke="#000" stroke-width="1.5"/>
<line x1="1757.7" y1="1053.2" x2="1757.7" y2="1057.7" stroke="#000" stroke-width="1.5"/>
<line x1="1747.61" y1="1053.2" x2="1767.79" y2="1053.2" stroke="#000" stroke-width="1.5"/>
<rect x="1738.3" y="1057.7" width="38.8" height="139.3" fill="#17316f" stroke="#000" stroke-width="1.5"/>
<line x1="1601" y1="900.42" x2="1601" y2="1198.38" stroke="#000" stroke-width="2.75"/>
<line x1="1589" y1="1197" x2="1800" y2="1197" stroke="#000" stroke-width="2.75"/>
<line x1="1589" y1="901.8" x2="1601" y2="901.8" stroke="#000" stroke-width="2.75"/>
<text transform="translate(1584.8 908.62) scale(1 1.04)" font-size="19.6" text-anchor="end" letter-spacing="0.4">2.0</text>
<line x1="1589" y1="975.6" x2="1601" y2="975.6" stroke="#000" stroke-width="2.75"/>
<text transform="translate(1584.8 982.42) scale(1 1.04)" font-size="19.6" text-anchor="end" letter-spacing="0.4">1.5</text>
<line x1="1589" y1="1049.4" x2="1601" y2="1049.4" stroke="#000" stroke-width="2.75"/>
<text transform="translate(1584.8 1056.22) scale(1 1.04)" font-size="19.6" text-anchor="end" letter-spacing="0.4">1.0</text>
<line x1="1589" y1="1123.2" x2="1601" y2="1123.2" stroke="#000" stroke-width="2.75"/>
<text transform="translate(1584.8 1130.02) scale(1 1.04)" font-size="19.6" text-anchor="end" letter-spacing="0.4">0.5</text>
<line x1="1589" y1="1197" x2="1601" y2="1197" stroke="#000" stroke-width="2.75"/>
<text transform="translate(1584.8 1203.82) scale(1 1.04)" font-size="19.6" text-anchor="end" letter-spacing="0.4">0.0</text>
<line x1="1639.6" y1="1197" x2="1639.6" y2="1209" stroke="#000" stroke-width="2.75"/>
<line x1="1698.5" y1="1197" x2="1698.5" y2="1209" stroke="#000" stroke-width="2.75"/>
<line x1="1757.3" y1="1197" x2="1757.3" y2="1209" stroke="#000" stroke-width="2.75"/>
<text transform="translate(1698.1 1088.32)" font-size="18.8" text-anchor="middle" letter-spacing="0.8">*</text>
<text transform="translate(1698.2 867.4) scale(1 1.04)" font-size="21.5" text-anchor="middle">K562</text>
<text transform="translate(1541.8 1051) rotate(-90) scale(1 1.04)" font-size="19.8" text-anchor="middle">Relative GPT1 mRNA level</text>
<text transform="translate(1645 1227.6) rotate(-45) scale(1 1.04)" font-size="20.4" text-anchor="end">Control</text>
<text transform="translate(1703.9 1227.6) rotate(-45) scale(1 1.04)" font-size="20.4" text-anchor="end">Meds433 100 nM</text>
<text transform="translate(1762.7 1227.6) rotate(-45) scale(1 1.04)" font-size="20.4" text-anchor="end">BQ 1 <tspan font-family="'Liberation Serif', 'DejaVu Serif', serif">µ</tspan>M</text>
</g>
<g id="panelD">
<text transform="translate(1.8 1386.2) scale(1 1.08)" font-size="30.4" font-weight="bold" fill="#000">D</text>
<rect x="146.55" y="1544.8" width="55.1" height="146.6" fill="#fcfcfc" stroke="#000" stroke-width="1.5"/>
<line x1="258.3" y1="1599.9" x2="258.3" y2="1646.1" stroke="#000" stroke-width="1.5"/>
<line x1="244.55" y1="1599.9" x2="272.05" y2="1599.9" stroke="#000" stroke-width="1.5"/>
<rect x="230.75" y="1646.1" width="55.1" height="45.3" fill="#dae8f5" stroke="#000" stroke-width="1.5"/>
<line x1="118.4" y1="1395.12" x2="118.4" y2="1692.78" stroke="#000" stroke-width="2.75"/>
<line x1="104.3" y1="1691.4" x2="316.2" y2="1691.4" stroke="#000" stroke-width="2.75"/>
<line x1="106.4" y1="1396.5" x2="118.4" y2="1396.5" stroke="#000" stroke-width="2.75"/>
<text transform="translate(102.1 1402.32) scale(1 1.04)" font-size="19.6" text-anchor="end" letter-spacing="0.4">2.0</text>
<line x1="106.4" y1="1470.23" x2="118.4" y2="1470.23" stroke="#000" stroke-width="2.75"/>
<text transform="translate(102.1 1476.05) scale(1 1.04)" font-size="19.6" text-anchor="end" letter-spacing="0.4">1.5</text>
<line x1="106.4" y1="1543.96" x2="118.4" y2="1543.96" stroke="#000" stroke-width="2.75"/>
<text transform="translate(102.1 1549.78) scale(1 1.04)" font-size="19.6" text-anchor="end" letter-spacing="0.4">1.0</text>
<line x1="106.4" y1="1617.69" x2="118.4" y2="1617.69" stroke="#000" stroke-width="2.75"/>
<text transform="translate(102.1 1623.51) scale(1 1.04)" font-size="19.6" text-anchor="end" letter-spacing="0.4">0.5</text>
<line x1="106.4" y1="1691.42" x2="118.4" y2="1691.42" stroke="#000" stroke-width="2.75"/>
<text transform="translate(102.1 1697.24) scale(1 1.04)" font-size="19.6" text-anchor="end" letter-spacing="0.4">0.0</text>
<line x1="173.9" y1="1691.4" x2="173.9" y2="1703.4" stroke="#000" stroke-width="2.75"/>
<line x1="258.1" y1="1691.4" x2="258.1" y2="1703.4" stroke="#000" stroke-width="2.75"/>
<text transform="translate(258.9 1603.42)" font-size="18.8" text-anchor="middle" letter-spacing="0.8">**</text>
<text transform="translate(216.2 1361.2) scale(1 1.04)" font-size="21.5" text-anchor="middle">CML CD34+ cells</text>
<text transform="translate(59 1545.2) rotate(-90) scale(1 1.04)" font-size="19.8" text-anchor="middle">Relative GPT1 mRNA level</text>
<text transform="translate(181.3 1723.8) rotate(-45) scale(1 1.04)" font-size="20.4" text-anchor="end">Control</text>
<text transform="translate(265.5 1723.8) rotate(-45) scale(1 1.04)" font-size="20.4" text-anchor="end">Meds433 100 nM</text>
</g>
<g id="panelE">
<text transform="translate(379.1 1386.2) scale(1 1.08)" font-size="30.4" font-weight="bold" fill="#000">E</text>
<line x1="469.2" y1="1568.7" x2="469.2" y2="1576.4" stroke="#000" stroke-width="1.5"/>
<line x1="461.7" y1="1568.7" x2="476.7" y2="1568.7" stroke="#000" stroke-width="1.5"/>
<rect x="454.6" y="1576.4" width="29.2" height="116.7" fill="#fcfcfc" stroke="#000" stroke-width="1.5"/>
<line x1="514.5" y1="1614" x2="514.5" y2="1627.7" stroke="#000" stroke-width="1.5"/>
<line x1="507" y1="1614" x2="522" y2="1614" stroke="#000" stroke-width="1.5"/>
<rect x="499.9" y="1627.7" width="29.2" height="65.4" fill="#2059a6" stroke="#000" stroke-width="1.5"/>
<line x1="559.8" y1="1524.3" x2="559.8" y2="1531.5" stroke="#000" stroke-width="1.5"/>
<line x1="552.3" y1="1524.3" x2="567.3" y2="1524.3" stroke="#000" stroke-width="1.5"/>
<rect x="545.2" y="1531.5" width="29.2" height="161.6" fill="#dae8f5" stroke="#000" stroke-width="1.5"/>
<line x1="605.1" y1="1560.2" x2="605.1" y2="1587.5" stroke="#000" stroke-width="1.5"/>
<line x1="597.6" y1="1560.2" x2="612.6" y2="1560.2" stroke="#000" stroke-width="1.5"/>
<rect x="590.5" y="1587.5" width="29.2" height="105.6" fill="#17316f" stroke="#000" stroke-width="1.5"/>
<line x1="438.7" y1="1396.42" x2="438.7" y2="1694.47" stroke="#000" stroke-width="2.75"/>
<line x1="425.2" y1="1693.1" x2="636.8" y2="1693.1" stroke="#000" stroke-width="2.75"/>
<line x1="426.7" y1="1426.1" x2="438.7" y2="1426.1" stroke="#000" stroke-width="2.75"/>
<text transform="translate(423 1431.52) scale(1 1.04)" font-size="19.6" text-anchor="end">100</text>
<line x1="426.7" y1="1479.5" x2="438.7" y2="1479.5" stroke="#000" stroke-width="2.75"/>
<text transform="translate(423 1484.92) scale(1 1.04)" font-size="19.6" text-anchor="end">80</text>
<line x1="426.7" y1="1532.9" x2="438.7" y2="1532.9" stroke="#000" stroke-width="2.75"/>
<text transform="translate(423 1538.32) scale(1 1.04)" font-size="19.6" text-anchor="end">60</text>
<line x1="426.7" y1="1586.3" x2="438.7" y2="1586.3" stroke="#000" stroke-width="2.75"/>
<text transform="translate(423 1591.72) scale(1 1.04)" font-size="19.6" text-anchor="end">40</text>
<line x1="426.7" y1="1639.7" x2="438.7" y2="1639.7" stroke="#000" stroke-width="2.75"/>
<text transform="translate(423 1645.12) scale(1 1.04)" font-size="19.6" text-anchor="end">20</text>
<line x1="426.7" y1="1693.1" x2="438.7" y2="1693.1" stroke="#000" stroke-width="2.75"/>
<text transform="translate(423 1698.52) scale(1 1.04)" font-size="19.6" text-anchor="end">0</text>
<line x1="468.8" y1="1693.1" x2="468.8" y2="1705.1" stroke="#000" stroke-width="2.75"/>
<line x1="514.1" y1="1693.1" x2="514.1" y2="1705.1" stroke="#000" stroke-width="2.75"/>
<line x1="559.8" y1="1693.1" x2="559.8" y2="1705.1" stroke="#000" stroke-width="2.75"/>
<line x1="604.7" y1="1693.1" x2="604.7" y2="1705.1" stroke="#000" stroke-width="2.75"/>
<line x1="469.2" y1="1516.6" x2="559.8" y2="1516.6" stroke="#505050" stroke-width="1.3"/>
<text transform="translate(516.3 1520.4)" font-size="17.7" text-anchor="middle" letter-spacing="1">**</text>
<line x1="466.7" y1="1561.9" x2="516.2" y2="1561.9" stroke="#505050" stroke-width="1.3"/>
<text transform="translate(493.2 1565.7)" font-size="17.7" text-anchor="middle" letter-spacing="1">**</text>
<text transform="translate(376.2 1547) rotate(-90) scale(1 1.04)" font-size="21.3" text-anchor="middle">CD11c percentage</text>
<text transform="translate(470.54 1727.36) rotate(-45) scale(1 1.04)" font-size="20.2" text-anchor="end">K562</text>
<text transform="translate(518.1 1725.1) rotate(-45) scale(1 1.04)" font-size="20.2" text-anchor="end">K562 GPT1</text>
<text transform="translate(563.8 1725.1) rotate(-45) scale(1 1.04)" font-size="20.2" text-anchor="end">K562+ Meds433 100 nM</text>
<text transform="translate(608.7 1725.1) rotate(-45) scale(1 1.04)" font-size="20.2" text-anchor="end">K562 GPT1+ Meds433 100 nM</text>
</g>
<g id="panelF">
<text transform="translate(1136.8 1386.2) scale(1 1.08)" font-size="30.4" font-weight="bold" fill="#000">F</text>
<line x1="1252.3" y1="1585.7" x2="1252.3" y2="1595.6" stroke="#000" stroke-width="1.5"/>
<line x1="1244.8" y1="1585.7" x2="1259.8" y2="1585.7" stroke="#000" stroke-width="1.5"/>
<rect x="1237.6" y="1595.6" width="29.4" height="95.1" fill="#fcfcfc" stroke="#000" stroke-width="1.5"/>
<line x1="1297.2" y1="1610.5" x2="1297.2" y2="1629.7" stroke="#000" stroke-width="1.5"/>
<line x1="1289.7" y1="1610.5" x2="1304.7" y2="1610.5" stroke="#000" stroke-width="1.5"/>
<rect x="1282.5" y="1629.7" width="29.4" height="61" fill="#2059a6" stroke="#000" stroke-width="1.5"/>
<line x1="1342.1" y1="1507.5" x2="1342.1" y2="1520.8" stroke="#000" stroke-width="1.5"/>
<line x1="1334.6" y1="1507.5" x2="1349.6" y2="1507.5" stroke="#000" stroke-width="1.5"/>
<rect x="1327.4" y="1520.8" width="29.4" height="169.9" fill="#dae8f5" stroke="#000" stroke-width="1.5"/>
<line x1="1387" y1="1539.1" x2="1387" y2="1561.4" stroke="#000" stroke-width="1.5"/>
<line x1="1379.5" y1="1539.1" x2="1394.5" y2="1539.1" stroke="#000" stroke-width="1.5"/>
<rect x="1372.3" y="1561.4" width="29.4" height="129.3" fill="#17316f" stroke="#000" stroke-width="1.5"/>
<line x1="1222.6" y1="1396.83" x2="1222.6" y2="1692.08" stroke="#000" stroke-width="2.75"/>
<line x1="1209" y1="1690.7" x2="1418.4" y2="1690.7" stroke="#000" stroke-width="2.75"/>
<line x1="1210.6" y1="1425.4" x2="1222.6" y2="1425.4" stroke="#000" stroke-width="2.75"/>
<text transform="translate(1205.8 1431.02) scale(1 1.04)" font-size="19.6" text-anchor="end">100</text>
<line x1="1210.6" y1="1478.45" x2="1222.6" y2="1478.45" stroke="#000" stroke-width="2.75"/>
<text transform="translate(1205.8 1484.07) scale(1 1.04)" font-size="19.6" text-anchor="end">80</text>
<line x1="1210.6" y1="1531.5" x2="1222.6" y2="1531.5" stroke="#000" stroke-width="2.75"/>
<text transform="translate(1205.8 1537.12) scale(1 1.04)" font-size="19.6" text-anchor="end">60</text>
<line x1="1210.6" y1="1584.55" x2="1222.6" y2="1584.55" stroke="#000" stroke-width="2.75"/>
<text transform="translate(1205.8 1590.17) scale(1 1.04)" font-size="19.6" text-anchor="end">40</text>
<line x1="1210.6" y1="1637.6" x2="1222.6" y2="1637.6" stroke="#000" stroke-width="2.75"/>
<text transform="translate(1205.8 1643.22) scale(1 1.04)" font-size="19.6" text-anchor="end">20</text>
<line x1="1210.6" y1="1690.65" x2="1222.6" y2="1690.65" stroke="#000" stroke-width="2.75"/>
<text transform="translate(1205.8 1696.27) scale(1 1.04)" font-size="19.6" text-anchor="end">0</text>
<line x1="1251.7" y1="1690.7" x2="1251.7" y2="1702.7" stroke="#000" stroke-width="2.75"/>
<line x1="1296.6" y1="1690.7" x2="1296.6" y2="1702.7" stroke="#000" stroke-width="2.75"/>
<line x1="1341.9" y1="1690.7" x2="1341.9" y2="1702.7" stroke="#000" stroke-width="2.75"/>
<line x1="1386.8" y1="1690.7" x2="1386.8" y2="1702.7" stroke="#000" stroke-width="2.75"/>
<line x1="1295.3" y1="1480.6" x2="1387.2" y2="1480.6" stroke="#505050" stroke-width="1.3"/>
<text transform="translate(1338.5 1484.4)" font-size="17.7" text-anchor="middle" letter-spacing="1">*</text>
<line x1="1252.1" y1="1500.7" x2="1341.9" y2="1500.7" stroke="#505050" stroke-width="1.3"/>
<text transform="translate(1295.4 1504.5)" font-size="17.7" text-anchor="middle" letter-spacing="1">*</text>
<line x1="1254.7" y1="1580.2" x2="1297.4" y2="1580.2" stroke="#505050" stroke-width="1.3"/>
<text transform="translate(1274 1584)" font-size="17.7" text-anchor="middle" letter-spacing="1">*</text>
<text transform="translate(1160.3 1544.5) rotate(-90) scale(1 1.04)" font-size="21.3" text-anchor="middle">ROS percentage</text>
<text transform="translate(1257.47 1722.33) rotate(-45) scale(1 1.04)" font-size="20.2" text-anchor="end">K562</text>
<text transform="translate(1301.8 1722.9) rotate(-45) scale(1 1.04)" font-size="20.2" text-anchor="end">K562 GPT1</text>
<text transform="translate(1347.1 1722.9) rotate(-45) scale(1 1.04)" font-size="20.2" text-anchor="end">K562+ Meds433 100 nM</text>
<text transform="translate(1392 1722.9) rotate(-45) scale(1 1.04)" font-size="20.2" text-anchor="end">K562 GPT1+ Meds433 100 nM</text>
</g>
<g id="flowE">
<path d="M732.97 1450.22 L743.96 1448.9 L754.95 1446.7 L761.54 1442.31 L765.93 1439.67 L772.53 1434.62 L776.92 1428.02 L783.52 1420.33 L787.91 1414.84 L792.31 1407.14 L795.6 1400.99 L800 1397.91 L803.3 1396.59 L807.03 1387.8 L809.89 1391.76 L814.29 1397.25 L819.78 1403.85 L825.27 1411.54 L829.67 1420.33 L834.07 1431.32 L838.46 1439.01 L843.96 1444.51 L849.45 1447.14 L856.04 1449.34 L869.23 1450.22 L871.43 1450.66 L871.43 1450.6 L732.97 1450.6 Z" fill="#ffccfb" stroke="none"/>
<line x1="716.7" y1="1450.6" x2="1042" y2="1450.6" stroke="#fbb4f3" stroke-width="1.3"/>
<path d="M732.97 1450.22 L743.96 1448.9 L754.95 1446.7 L761.54 1442.31 L765.93 1439.67 L772.53 1434.62 L776.92 1428.02 L783.52 1420.33 L787.91 1414.84 L792.31 1407.14 L795.6 1400.99 L800 1397.91 L803.3 1396.59 L807.03 1387.8 L809.89 1391.76 L814.29 1397.25 L819.78 1403.85 L825.27 1411.54 L829.67 1420.33 L834.07 1431.32 L838.46 1439.01 L843.96 1444.51 L849.45 1447.14 L856.04 1449.34 L869.23 1450.22 L871.43 1450.66" fill="none" stroke="#f797ec" stroke-width="1.6" stroke-linejoin="round" stroke-linecap="round"/>
<path d="M728.57 1531.98 L735.16 1530.22 L743.96 1527.58 L750.55 1523.63 L757.14 1518.13 L763.74 1510.44 L767.03 1503.85 L770.33 1495.05 L774.73 1487.36 L778.02 1480.77 L782.42 1477.47 L785.71 1473.08 L790.11 1463.63 L793.41 1473.08 L796.04 1464.29 L800 1467.58 L803.3 1474.18 L806.59 1481.87 L810.99 1488.46 L814.29 1495.05 L817.58 1503.85 L821.98 1511.54 L827.47 1519.23 L832.97 1525.16 L838.46 1528.02 L845.05 1530.22 L854.95 1531.54 L854.95 1531.7 L728.57 1531.7 Z" fill="#b9dcf8" stroke="none"/>
<line x1="716.7" y1="1531.7" x2="1042" y2="1531.7" stroke="#9ccbf3" stroke-width="1.3"/>
<path d="M728.57 1531.98 L735.16 1530.22 L743.96 1527.58 L750.55 1523.63 L757.14 1518.13 L763.74 1510.44 L767.03 1503.85 L770.33 1495.05 L774.73 1487.36 L778.02 1480.77 L782.42 1477.47 L785.71 1473.08 L790.11 1463.63 L793.41 1473.08 L796.04 1464.29 L800 1467.58 L803.3 1474.18 L806.59 1481.87 L810.99 1488.46 L814.29 1495.05 L817.58 1503.85 L821.98 1511.54 L827.47 1519.23 L832.97 1525.16 L838.46 1528.02 L845.05 1530.22 L854.95 1531.54" fill="none" stroke="#5ea9ec" stroke-width="1.6" stroke-linejoin="round" stroke-linecap="round"/>
<path d="M736.17 1612.28 L753.26 1610.57 L763.03 1608.62 L772.8 1604.96 L785.01 1600.81 L797.22 1596.9 L806.98 1592.75 L816.75 1593.24 L824.08 1592.26 L831.4 1596.41 L838.73 1602.52 L848.5 1608.62 L855.82 1611.06 L868.03 1612.28 L868.03 1612.3 L736.17 1612.3 Z" fill="#fbd9b6" stroke="none"/>
<line x1="716.7" y1="1612.3" x2="1042" y2="1612.3" stroke="#f7c79c" stroke-width="1.3"/>
<path d="M736.17 1612.28 L753.26 1610.57 L763.03 1608.62 L772.8 1604.96 L785.01 1600.81 L797.22 1596.9 L806.98 1592.75 L816.75 1593.24 L824.08 1592.26 L831.4 1596.41 L838.73 1602.52 L848.5 1608.62 L855.82 1611.06 L868.03 1612.28" fill="none" stroke="#f4b57d" stroke-width="1.6" stroke-linejoin="round" stroke-linecap="round"/>
<path d="M733.72 1693.36 L745.93 1691.16 L758.14 1686.76 L767.91 1681.88 L777.68 1674.55 L785.01 1664.79 L792.33 1662.83 L799.66 1658.19 L805.76 1656.97 L809.43 1659.9 L816.75 1663.57 L824.08 1670.89 L831.4 1678.22 L838.73 1684.32 L846.06 1689.21 L853.38 1692.14 L872.92 1693.36 L872.92 1693.4 L733.72 1693.4 Z" fill="#c2f5a5" stroke="none"/>
<line x1="716.7" y1="1693.4" x2="1042" y2="1693.4" stroke="#a6ee82" stroke-width="1.3"/>
<path d="M733.72 1693.36 L745.93 1691.16 L758.14 1686.76 L767.91 1681.88 L777.68 1674.55 L785.01 1664.79 L792.33 1662.83 L799.66 1658.19 L805.76 1656.97 L809.43 1659.9 L816.75 1663.57 L824.08 1670.89 L831.4 1678.22 L838.73 1684.32 L846.06 1689.21 L853.38 1692.14 L872.92 1693.36" fill="none" stroke="#7fe64e" stroke-width="1.6" stroke-linejoin="round" stroke-linecap="round"/>
<rect x="716.7" y="1369.8" width="325.3" height="324.2" fill="none" stroke="#333" stroke-width="1.5"/>
<text transform="translate(1036.4 1391.8) scale(1 1.04)" font-size="22" text-anchor="end" fill="#111">K562</text>
<text transform="translate(1037.3 1471.9) scale(1 1.04)" font-size="22" text-anchor="end" fill="#111">K562 GPT1</text>
<text transform="translate(1038.8 1553.7) scale(1 1.04)" font-size="22" text-anchor="end" fill="#111">K562+ Meds433</text>
<text transform="translate(1038.8 1633.8) scale(1 1.04)" font-size="22" text-anchor="end" fill="#111">K562 GPT1+ Meds433</text>
<line x1="719.34" y1="1694" x2="719.34" y2="1699" stroke="#111" stroke-width="1.2"/>
<line x1="724.84" y1="1694" x2="724.84" y2="1699" stroke="#111" stroke-width="1.2"/>
<line x1="730.77" y1="1694" x2="730.77" y2="1699" stroke="#111" stroke-width="1.2"/>
<line x1="736.26" y1="1694" x2="736.26" y2="1699" stroke="#111" stroke-width="1.2"/>
<line x1="742.2" y1="1694" x2="742.2" y2="1699" stroke="#111" stroke-width="1.2"/>
<line x1="748.35" y1="1694" x2="748.35" y2="1699" stroke="#111" stroke-width="1.2"/>
<line x1="774.73" y1="1694" x2="774.73" y2="1699" stroke="#111" stroke-width="1.2"/>
<line x1="780.88" y1="1694" x2="780.88" y2="1699" stroke="#111" stroke-width="1.2"/>
<line x1="786.81" y1="1694" x2="786.81" y2="1699" stroke="#111" stroke-width="1.2"/>
<line x1="792.31" y1="1694" x2="792.31" y2="1699" stroke="#111" stroke-width="1.2"/>
<line x1="797.8" y1="1694" x2="797.8" y2="1699" stroke="#111" stroke-width="1.2"/>
<line x1="803.3" y1="1694" x2="803.3" y2="1699" stroke="#111" stroke-width="1.2"/>
<line x1="808.79" y1="1694" x2="808.79" y2="1699" stroke="#111" stroke-width="1.2"/>
<line x1="851.65" y1="1694" x2="851.65" y2="1699" stroke="#111" stroke-width="1.2"/>
<line x1="873.63" y1="1694" x2="873.63" y2="1699" stroke="#111" stroke-width="1.2"/>
<line x1="887.91" y1="1694" x2="887.91" y2="1699" stroke="#111" stroke-width="1.2"/>
<line x1="900" y1="1694" x2="900" y2="1699" stroke="#111" stroke-width="1.2"/>
<line x1="909.89" y1="1694" x2="909.89" y2="1699" stroke="#111" stroke-width="1.2"/>
<line x1="917.58" y1="1694" x2="917.58" y2="1699" stroke="#111" stroke-width="1.2"/>
<line x1="924.18" y1="1694" x2="924.18" y2="1699" stroke="#111" stroke-width="1.2"/>
<line x1="929.67" y1="1694" x2="929.67" y2="1699" stroke="#111" stroke-width="1.2"/>
<line x1="970.77" y1="1694" x2="970.77" y2="1699" stroke="#111" stroke-width="1.2"/>
<line x1="991.21" y1="1694" x2="991.21" y2="1699" stroke="#111" stroke-width="1.2"/>
<line x1="1005.05" y1="1694" x2="1005.05" y2="1699" stroke="#111" stroke-width="1.2"/>
<line x1="1015.38" y1="1694" x2="1015.38" y2="1699" stroke="#111" stroke-width="1.2"/>
<line x1="1024.18" y1="1694" x2="1024.18" y2="1699" stroke="#111" stroke-width="1.2"/>
<line x1="1031.87" y1="1694" x2="1031.87" y2="1699" stroke="#111" stroke-width="1.2"/>
<line x1="1038.46" y1="1694" x2="1038.46" y2="1699" stroke="#111" stroke-width="1.2"/>
<line x1="816.48" y1="1694" x2="816.48" y2="1702.6" stroke="#000" stroke-width="1.6"/>
<line x1="934.51" y1="1694" x2="934.51" y2="1702.6" stroke="#000" stroke-width="1.6"/>
<rect x="753.85" y="1695.5" width="14.29" height="4.2" fill="#000"/>
<line x1="754.51" y1="1694" x2="754.51" y2="1702.6" stroke="#000" stroke-width="1.6"/>
<line x1="760.99" y1="1694" x2="760.99" y2="1702.6" stroke="#000" stroke-width="1.6"/>
<line x1="767.47" y1="1694" x2="767.47" y2="1702.6" stroke="#000" stroke-width="1.6"/>
<text transform="translate(767 1721) scale(1 1.04)" font-size="11" text-anchor="middle" fill="#111" style="stroke-width:0.4px" textLength="5.6" lengthAdjust="spacingAndGlyphs">0</text>
<text transform="translate(822.6 1721) scale(1 1.04)" font-size="11" text-anchor="middle" fill="#111" style="stroke-width:0.4px" textLength="10" lengthAdjust="spacingAndGlyphs">10</text>
<text transform="translate(830.9 1714) scale(1 1.04)" font-size="9.5" text-anchor="middle" fill="#111" style="stroke-width:0.35px" textLength="4.6" lengthAdjust="spacingAndGlyphs">2</text>
<text transform="translate(939.6 1721) scale(1 1.04)" font-size="11" text-anchor="middle" fill="#111" style="stroke-width:0.4px" textLength="10" lengthAdjust="spacingAndGlyphs">10</text>
<text transform="translate(947.9 1714) scale(1 1.04)" font-size="9.5" text-anchor="middle" fill="#111" style="stroke-width:0.35px" textLength="4.6" lengthAdjust="spacingAndGlyphs">3</text>
<text transform="translate(878.2 1740.4) scale(1 1.04)" font-size="20.4" text-anchor="middle" font-weight="bold" fill="#000">APC</text>
</g>
<g id="flowF">
<path d="M1469.67 1503.08 L1492.75 1503.08 L1501.54 1499.34 L1510.33 1491.65 L1515.82 1480.66 L1521.32 1465.27 L1525.71 1447.69 L1529.01 1431.21 L1532.31 1429.01 L1535.6 1416.92 L1537.8 1408.13 L1540 1415.82 L1543.3 1403.3 L1545.49 1407.03 L1547.25 1405.27 L1549.89 1416.92 L1554.29 1432.31 L1558.68 1447.69 L1563.08 1463.08 L1567.47 1476.26 L1571.87 1487.25 L1577.36 1496.04 L1585.05 1501.1 L1596.04 1503.08 L1596.04 1503.1 L1469.67 1503.1 Z" fill="#ffccfb" stroke="none"/>
<line x1="1469.7" y1="1503.1" x2="1794.5" y2="1503.1" stroke="#fbb4f3" stroke-width="1.3"/>
<path d="M1469.67 1503.08 L1492.75 1503.08 L1501.54 1499.34 L1510.33 1491.65 L1515.82 1480.66 L1521.32 1465.27 L1525.71 1447.69 L1529.01 1431.21 L1532.31 1429.01 L1535.6 1416.92 L1537.8 1408.13 L1540 1415.82 L1543.3 1403.3 L1545.49 1407.03 L1547.25 1405.27 L1549.89 1416.92 L1554.29 1432.31 L1558.68 1447.69 L1563.08 1463.08 L1567.47 1476.26 L1571.87 1487.25 L1577.36 1496.04 L1585.05 1501.1 L1596.04 1503.08" fill="none" stroke="#f797ec" stroke-width="1.6" stroke-linejoin="round" stroke-linecap="round"/>
<path d="M1488.35 1567.47 L1497.14 1564.18 L1505.93 1554.29 L1510.33 1542.2 L1515.82 1526.81 L1521.32 1513.63 L1525.71 1500.44 L1529.67 1483.96 L1533.41 1497.14 L1537.8 1484.62 L1540.66 1499.34 L1543.3 1500.88 L1546.59 1513.63 L1550.99 1529.01 L1555.38 1542.2 L1560.88 1553.19 L1567.47 1560.88 L1576.26 1565.27 L1585.05 1567.47 L1585.05 1567.5 L1488.35 1567.5 Z" fill="#b9dcf8" stroke="none"/>
<line x1="1469.7" y1="1567.5" x2="1794.5" y2="1567.5" stroke="#9ccbf3" stroke-width="1.3"/>
<path d="M1488.35 1567.47 L1497.14 1564.18 L1505.93 1554.29 L1510.33 1542.2 L1515.82 1526.81 L1521.32 1513.63 L1525.71 1500.44 L1529.67 1483.96 L1533.41 1497.14 L1537.8 1484.62 L1540.66 1499.34 L1543.3 1500.88 L1546.59 1513.63 L1550.99 1529.01 L1555.38 1542.2 L1560.88 1553.19 L1567.47 1560.88 L1576.26 1565.27 L1585.05 1567.47" fill="none" stroke="#5ea9ec" stroke-width="1.6" stroke-linejoin="round" stroke-linecap="round"/>
<path d="M1501.54 1632.31 L1510.33 1630.11 L1519.12 1624.62 L1527.91 1612.53 L1534.51 1599.34 L1541.1 1581.76 L1546.59 1577.36 L1552.09 1574.51 L1557.58 1577.36 L1563.08 1583.96 L1568.57 1594.95 L1574.07 1605.93 L1580.66 1616.92 L1587.25 1624.62 L1593.85 1629.01 L1602.64 1631.21 L1637.8 1631.21 L1650.99 1632.31 L1650.99 1632.3 L1501.54 1632.3 Z" fill="#fbd9b6" stroke="none"/>
<line x1="1469.7" y1="1632.3" x2="1794.5" y2="1632.3" stroke="#f7c79c" stroke-width="1.3"/>
<path d="M1501.54 1632.31 L1510.33 1630.11 L1519.12 1624.62 L1527.91 1612.53 L1534.51 1599.34 L1541.1 1581.76 L1546.59 1577.36 L1552.09 1574.51 L1557.58 1577.36 L1563.08 1583.96 L1568.57 1594.95 L1574.07 1605.93 L1580.66 1616.92 L1587.25 1624.62 L1593.85 1629.01 L1602.64 1631.21 L1637.8 1631.21 L1650.99 1632.31" fill="none" stroke="#f4b57d" stroke-width="1.6" stroke-linejoin="round" stroke-linecap="round"/>
<path d="M1505.93 1694.29 L1512.53 1692.97 L1521.32 1689.45 L1527.91 1678.46 L1534.51 1663.08 L1541.1 1656.48 L1547.69 1652.09 L1553.85 1647.69 L1558.68 1654.29 L1564.18 1660.88 L1568.57 1671.87 L1574.07 1680.66 L1580.66 1688.35 L1587.25 1692.75 L1593.85 1694.29 L1593.85 1694.6 L1505.93 1694.6 Z" fill="#c2f5a5" stroke="none"/>
<line x1="1469.7" y1="1694.6" x2="1794.5" y2="1694.6" stroke="#a6ee82" stroke-width="1.3"/>
<path d="M1505.93 1694.29 L1512.53 1692.97 L1521.32 1689.45 L1527.91 1678.46 L1534.51 1663.08 L1541.1 1656.48 L1547.69 1652.09 L1553.85 1647.69 L1558.68 1654.29 L1564.18 1660.88 L1568.57 1671.87 L1574.07 1680.66 L1580.66 1688.35 L1587.25 1692.75 L1593.85 1694.29" fill="none" stroke="#7fe64e" stroke-width="1.6" stroke-linejoin="round" stroke-linecap="round"/>
<rect x="1469.7" y="1369.4" width="324.8" height="324.9" fill="none" stroke="#333" stroke-width="1.5"/>
<text transform="translate(1791.2 1392.1) scale(1 1.04)" font-size="22" text-anchor="end" fill="#111">K562</text>
<text transform="translate(1791.4 1524.3) scale(1 1.04)" font-size="22" text-anchor="end" fill="#111">K562 GPT1</text>
<text transform="translate(1791.6 1590.1) scale(1 1.04)" font-size="22" text-anchor="end" fill="#111">K562+ Meds433</text>
<text transform="translate(1791.8 1652.2) scale(1 1.04)" font-size="22" text-anchor="end" fill="#111">K562 GPT1+ Meds433</text>
<line x1="1472.44" y1="1694.3" x2="1472.44" y2="1699.3" stroke="#111" stroke-width="1.2"/>
<line x1="1477.78" y1="1694.3" x2="1477.78" y2="1699.3" stroke="#111" stroke-width="1.2"/>
<line x1="1483.12" y1="1694.3" x2="1483.12" y2="1699.3" stroke="#111" stroke-width="1.2"/>
<line x1="1488.46" y1="1694.3" x2="1488.46" y2="1699.3" stroke="#111" stroke-width="1.2"/>
<line x1="1493.8" y1="1694.3" x2="1493.8" y2="1699.3" stroke="#111" stroke-width="1.2"/>
<line x1="1499.57" y1="1694.3" x2="1499.57" y2="1699.3" stroke="#111" stroke-width="1.2"/>
<line x1="1525.85" y1="1694.3" x2="1525.85" y2="1699.3" stroke="#111" stroke-width="1.2"/>
<line x1="1531.2" y1="1694.3" x2="1531.2" y2="1699.3" stroke="#111" stroke-width="1.2"/>
<line x1="1536.54" y1="1694.3" x2="1536.54" y2="1699.3" stroke="#111" stroke-width="1.2"/>
<line x1="1542.95" y1="1694.3" x2="1542.95" y2="1699.3" stroke="#111" stroke-width="1.2"/>
<line x1="1548.29" y1="1694.3" x2="1548.29" y2="1699.3" stroke="#111" stroke-width="1.2"/>
<line x1="1553.63" y1="1694.3" x2="1553.63" y2="1699.3" stroke="#111" stroke-width="1.2"/>
<line x1="1558.97" y1="1694.3" x2="1558.97" y2="1699.3" stroke="#111" stroke-width="1.2"/>
<line x1="1563.25" y1="1694.3" x2="1563.25" y2="1699.3" stroke="#111" stroke-width="1.2"/>
<line x1="1603.85" y1="1694.3" x2="1603.85" y2="1699.3" stroke="#111" stroke-width="1.2"/>
<line x1="1625.21" y1="1694.3" x2="1625.21" y2="1699.3" stroke="#111" stroke-width="1.2"/>
<line x1="1641.24" y1="1694.3" x2="1641.24" y2="1699.3" stroke="#111" stroke-width="1.2"/>
<line x1="1652.99" y1="1694.3" x2="1652.99" y2="1699.3" stroke="#111" stroke-width="1.2"/>
<line x1="1662.61" y1="1694.3" x2="1662.61" y2="1699.3" stroke="#111" stroke-width="1.2"/>
<line x1="1671.15" y1="1694.3" x2="1671.15" y2="1699.3" stroke="#111" stroke-width="1.2"/>
<line x1="1677.56" y1="1694.3" x2="1677.56" y2="1699.3" stroke="#111" stroke-width="1.2"/>
<line x1="1682.91" y1="1694.3" x2="1682.91" y2="1699.3" stroke="#111" stroke-width="1.2"/>
<line x1="1723.5" y1="1694.3" x2="1723.5" y2="1699.3" stroke="#111" stroke-width="1.2"/>
<line x1="1743.8" y1="1694.3" x2="1743.8" y2="1699.3" stroke="#111" stroke-width="1.2"/>
<line x1="1757.69" y1="1694.3" x2="1757.69" y2="1699.3" stroke="#111" stroke-width="1.2"/>
<line x1="1767.74" y1="1694.3" x2="1767.74" y2="1699.3" stroke="#111" stroke-width="1.2"/>
<line x1="1776.92" y1="1694.3" x2="1776.92" y2="1699.3" stroke="#111" stroke-width="1.2"/>
<line x1="1784.4" y1="1694.3" x2="1784.4" y2="1699.3" stroke="#111" stroke-width="1.2"/>
<line x1="1790.81" y1="1694.3" x2="1790.81" y2="1699.3" stroke="#111" stroke-width="1.2"/>
<line x1="1569.23" y1="1694.3" x2="1569.23" y2="1702.9" stroke="#000" stroke-width="1.6"/>
<line x1="1687.18" y1="1694.3" x2="1687.18" y2="1702.9" stroke="#000" stroke-width="1.6"/>
<rect x="1506.62" y="1695.8" width="13.89" height="4.2" fill="#000"/>
<line x1="1507.26" y1="1694.3" x2="1507.26" y2="1702.9" stroke="#000" stroke-width="1.6"/>
<line x1="1513.57" y1="1694.3" x2="1513.57" y2="1702.9" stroke="#000" stroke-width="1.6"/>
<line x1="1519.87" y1="1694.3" x2="1519.87" y2="1702.9" stroke="#000" stroke-width="1.6"/>
<text transform="translate(1519.9 1722) scale(1 1.04)" font-size="11" text-anchor="middle" fill="#111" style="stroke-width:0.4px" textLength="5.6" lengthAdjust="spacingAndGlyphs">0</text>
<text transform="translate(1575 1722) scale(1 1.04)" font-size="11" text-anchor="middle" fill="#111" style="stroke-width:0.4px" textLength="10" lengthAdjust="spacingAndGlyphs">10</text>
<text transform="translate(1583.3 1715) scale(1 1.04)" font-size="9.5" text-anchor="middle" fill="#111" style="stroke-width:0.35px" textLength="4.6" lengthAdjust="spacingAndGlyphs">2</text>
<text transform="translate(1693 1722) scale(1 1.04)" font-size="11" text-anchor="middle" fill="#111" style="stroke-width:0.4px" textLength="10" lengthAdjust="spacingAndGlyphs">10</text>
<text transform="translate(1701.3 1715) scale(1 1.04)" font-size="9.5" text-anchor="middle" fill="#111" style="stroke-width:0.35px" textLength="4.6" lengthAdjust="spacingAndGlyphs">3</text>
<text transform="translate(1635.4 1746.8) scale(1 1.04)" font-size="20.4" text-anchor="middle" font-weight="bold" fill="#000">FITC</text>
</g>
<g id="panelG">
<text transform="translate(1.8 1923.6) scale(1 1.08)" font-size="30.4" font-weight="bold" fill="#000">G</text>
<line x1="144.8" y1="1958.4" x2="144.8" y2="1963.3" stroke="#000" stroke-width="1.5"/>
<line x1="137.3" y1="1958.4" x2="152.3" y2="1958.4" stroke="#000" stroke-width="1.5"/>
<rect x="130.1" y="1963.3" width="29.4" height="254.3" fill="#fcfcfc" stroke="#000" stroke-width="1.5"/>
<line x1="189.8" y1="1961.4" x2="189.8" y2="1965.2" stroke="#000" stroke-width="1.5"/>
<line x1="182.3" y1="1961.4" x2="197.3" y2="1961.4" stroke="#000" stroke-width="1.5"/>
<rect x="175.1" y="1965.2" width="29.4" height="252.4" fill="#2059a6" stroke="#000" stroke-width="1.5"/>
<line x1="234.9" y1="2039" x2="234.9" y2="2045.5" stroke="#000" stroke-width="1.5"/>
<line x1="227.4" y1="2039" x2="242.4" y2="2039" stroke="#000" stroke-width="1.5"/>
<rect x="220.2" y="2045.5" width="29.4" height="172.1" fill="#dae8f5" stroke="#000" stroke-width="1.5"/>
<line x1="280.1" y1="2021.6" x2="280.1" y2="2025.4" stroke="#000" stroke-width="1.5"/>
<line x1="272.6" y1="2021.6" x2="287.6" y2="2021.6" stroke="#000" stroke-width="1.5"/>
<rect x="265.4" y="2025.4" width="29.4" height="192.2" fill="#17316f" stroke="#000" stroke-width="1.5"/>
<line x1="114.3" y1="1921.62" x2="114.3" y2="2218.97" stroke="#000" stroke-width="2.75"/>
<line x1="102.2" y1="2217.6" x2="311.1" y2="2217.6" stroke="#000" stroke-width="2.75"/>
<line x1="102.3" y1="1950.3" x2="114.3" y2="1950.3" stroke="#000" stroke-width="2.75"/>
<text transform="translate(98.4 1956.12) scale(1 1.04)" font-size="19.6" text-anchor="end">100</text>
<line x1="102.3" y1="2003.75" x2="114.3" y2="2003.75" stroke="#000" stroke-width="2.75"/>
<text transform="translate(98.4 2009.57) scale(1 1.04)" font-size="19.6" text-anchor="end">80</text>
<line x1="102.3" y1="2057.2" x2="114.3" y2="2057.2" stroke="#000" stroke-width="2.75"/>
<text transform="translate(98.4 2063.02) scale(1 1.04)" font-size="19.6" text-anchor="end">60</text>
<line x1="102.3" y1="2110.65" x2="114.3" y2="2110.65" stroke="#000" stroke-width="2.75"/>
<text transform="translate(98.4 2116.47) scale(1 1.04)" font-size="19.6" text-anchor="end">40</text>
<line x1="102.3" y1="2164.1" x2="114.3" y2="2164.1" stroke="#000" stroke-width="2.75"/>
<text transform="translate(98.4 2169.92) scale(1 1.04)" font-size="19.6" text-anchor="end">20</text>
<line x1="102.3" y1="2217.55" x2="114.3" y2="2217.55" stroke="#000" stroke-width="2.75"/>
<text transform="translate(98.4 2223.37) scale(1 1.04)" font-size="19.6" text-anchor="end">0</text>
<line x1="143.8" y1="2217.6" x2="143.8" y2="2229.6" stroke="#000" stroke-width="2.75"/>
<line x1="189.3" y1="2217.6" x2="189.3" y2="2229.6" stroke="#000" stroke-width="2.75"/>
<line x1="234.7" y1="2217.6" x2="234.7" y2="2229.6" stroke="#000" stroke-width="2.75"/>
<line x1="279.7" y1="2217.6" x2="279.7" y2="2229.6" stroke="#000" stroke-width="2.75"/>
<line x1="186.6" y1="1933.4" x2="276.7" y2="1933.4" stroke="#505050" stroke-width="1.3"/>
<text transform="translate(235.2 1937.2)" font-size="17.7" text-anchor="middle" letter-spacing="1">**</text>
<line x1="144.2" y1="1951.6" x2="235.4" y2="1951.6" stroke="#505050" stroke-width="1.3"/>
<text transform="translate(186.7 1955.4)" font-size="17.7" text-anchor="middle" letter-spacing="1">**</text>
<line x1="235.8" y1="2013.7" x2="280.1" y2="2013.7" stroke="#505050" stroke-width="1.3"/>
<text transform="translate(255.6 2017.5)" font-size="17.7" text-anchor="middle" letter-spacing="1">**</text>
<text transform="translate(51.6 2072) rotate(-90) scale(1 1.04)" font-size="21.3" text-anchor="middle">Cell viability percentage</text>
<text transform="translate(146.29 2251.41) rotate(-45) scale(1 1.04)" font-size="20.2" text-anchor="end">K562</text>
<text transform="translate(192.5 2250.7) rotate(-45) scale(1 1.04)" font-size="20.2" text-anchor="end">K562 GPT1</text>
<text transform="translate(237.9 2250.7) rotate(-45) scale(1 1.04)" font-size="20.2" text-anchor="end">K562+ Meds433 100 nM</text>
<text transform="translate(282.9 2250.7) rotate(-45) scale(1 1.04)" font-size="20.2" text-anchor="end">K562 GPT1+ Meds433 100 nM</text>
</g>
<g id="panelH">
<text transform="translate(628.1 1908.6) scale(1 1.08)" font-size="30.4" font-weight="bold" fill="#000">H</text>
<line x1="760.1" y1="2148.2" x2="760.1" y2="2157" stroke="#000" stroke-width="1.5"/>
<line x1="751.6" y1="2148.2" x2="768.6" y2="2148.2" stroke="#000" stroke-width="1.5"/>
<rect x="742.8" y="2157" width="34.6" height="61" fill="#fcfcfc" stroke="#000" stroke-width="1.5"/>
<line x1="813.21" y1="2178.6" x2="813.21" y2="2181.1" stroke="#000" stroke-width="1.5"/>
<line x1="804.71" y1="2178.6" x2="821.71" y2="2178.6" stroke="#000" stroke-width="1.5"/>
<rect x="795.91" y="2181.1" width="34.6" height="36.9" fill="#2059a6" stroke="#000" stroke-width="1.5"/>
<line x1="866.32" y1="1970.5" x2="866.32" y2="1983.3" stroke="#000" stroke-width="1.5"/>
<line x1="857.82" y1="1970.5" x2="874.82" y2="1970.5" stroke="#000" stroke-width="1.5"/>
<rect x="849.02" y="1983.3" width="34.6" height="234.7" fill="#dae8f5" stroke="#000" stroke-width="1.5"/>
<line x1="919.43" y1="2004.2" x2="919.43" y2="2015.2" stroke="#000" stroke-width="1.5"/>
<line x1="910.93" y1="2004.2" x2="927.93" y2="2004.2" stroke="#000" stroke-width="1.5"/>
<rect x="902.13" y="2015.2" width="34.6" height="202.8" fill="#17316f" stroke="#000" stroke-width="1.5"/>
<line x1="972.54" y1="2154.4" x2="972.54" y2="2158.4" stroke="#000" stroke-width="1.5"/>
<line x1="964.04" y1="2154.4" x2="981.04" y2="2154.4" stroke="#000" stroke-width="1.5"/>
<rect x="955.24" y="2158.4" width="34.6" height="59.6" fill="#fcfcfc" stroke="#000" stroke-width="1.5"/>
<line x1="1025.65" y1="2177.8" x2="1025.65" y2="2181.1" stroke="#000" stroke-width="1.5"/>
<line x1="1017.15" y1="2177.8" x2="1034.15" y2="2177.8" stroke="#000" stroke-width="1.5"/>
<rect x="1008.35" y="2181.1" width="34.6" height="36.9" fill="#2059a6" stroke="#000" stroke-width="1.5"/>
<line x1="1078.76" y1="2038.3" x2="1078.76" y2="2047.1" stroke="#000" stroke-width="1.5"/>
<line x1="1070.26" y1="2038.3" x2="1087.26" y2="2038.3" stroke="#000" stroke-width="1.5"/>
<rect x="1061.46" y="2047.1" width="34.6" height="170.9" fill="#dae8f5" stroke="#000" stroke-width="1.5"/>
<line x1="1131.87" y1="2066.8" x2="1131.87" y2="2076.7" stroke="#000" stroke-width="1.5"/>
<line x1="1123.37" y1="2066.8" x2="1140.37" y2="2066.8" stroke="#000" stroke-width="1.5"/>
<rect x="1114.57" y="2076.7" width="34.6" height="141.3" fill="#17316f" stroke="#000" stroke-width="1.5"/>
<line x1="724.9" y1="1921.8" x2="724.9" y2="2219.4" stroke="#000" stroke-width="2.8"/>
<line x1="711.7" y1="2218" x2="1168.5" y2="2218" stroke="#000" stroke-width="2.8"/>
<line x1="712.9" y1="1923.2" x2="724.9" y2="1923.2" stroke="#000" stroke-width="2.8"/>
<text transform="translate(708.8 1929.02) scale(1 1.04)" font-size="19.6" text-anchor="end">20</text>
<line x1="712.9" y1="1996.9" x2="724.9" y2="1996.9" stroke="#000" stroke-width="2.8"/>
<text transform="translate(708.8 2002.72) scale(1 1.04)" font-size="19.6" text-anchor="end">15</text>
<line x1="712.9" y1="2070.6" x2="724.9" y2="2070.6" stroke="#000" stroke-width="2.8"/>
<text transform="translate(708.8 2076.42) scale(1 1.04)" font-size="19.6" text-anchor="end">10</text>
<line x1="712.9" y1="2144.3" x2="724.9" y2="2144.3" stroke="#000" stroke-width="2.8"/>
<text transform="translate(708.8 2150.12) scale(1 1.04)" font-size="19.6" text-anchor="end">5</text>
<line x1="712.9" y1="2218" x2="724.9" y2="2218" stroke="#000" stroke-width="2.8"/>
<text transform="translate(708.8 2223.82) scale(1 1.04)" font-size="19.6" text-anchor="end">0</text>
<line x1="760.1" y1="2218" x2="760.1" y2="2230.4" stroke="#000" stroke-width="2.8"/>
<line x1="813.21" y1="2218" x2="813.21" y2="2230.4" stroke="#000" stroke-width="2.8"/>
<line x1="866.32" y1="2218" x2="866.32" y2="2230.4" stroke="#000" stroke-width="2.8"/>
<line x1="919.43" y1="2218" x2="919.43" y2="2230.4" stroke="#000" stroke-width="2.8"/>
<line x1="972.54" y1="2218" x2="972.54" y2="2230.4" stroke="#000" stroke-width="2.8"/>
<line x1="1025.65" y1="2218" x2="1025.65" y2="2230.4" stroke="#000" stroke-width="2.8"/>
<line x1="1078.76" y1="2218" x2="1078.76" y2="2230.4" stroke="#000" stroke-width="2.8"/>
<line x1="1131.87" y1="2218" x2="1131.87" y2="2230.4" stroke="#000" stroke-width="2.8"/>
<line x1="816.1" y1="1939.4" x2="919.4" y2="1939.4" stroke="#505050" stroke-width="1.3"/>
<text transform="translate(869.4 1943.2)" font-size="17.7" text-anchor="middle" letter-spacing="1">***</text>
<line x1="760.1" y1="1957.7" x2="867" y2="1957.7" stroke="#505050" stroke-width="1.3"/>
<text transform="translate(814.8 1961.5)" font-size="17.7" text-anchor="middle" letter-spacing="1">**</text>
<line x1="760.1" y1="2141.2" x2="816.8" y2="2141.2" stroke="#505050" stroke-width="1.3"/>
<text transform="translate(789.5 2145)" font-size="17.7" text-anchor="middle" letter-spacing="1">*</text>
<line x1="1023.1" y1="2009.3" x2="1131.9" y2="2009.3" stroke="#505050" stroke-width="1.3"/>
<text transform="translate(1080.7 2013.1)" font-size="17.7" text-anchor="middle" letter-spacing="1">**</text>
<line x1="979.5" y1="2029.1" x2="1077.3" y2="2029.1" stroke="#505050" stroke-width="1.3"/>
<text transform="translate(1027.2 2032.9)" font-size="17.7" text-anchor="middle" letter-spacing="1">**</text>
<line x1="972.9" y1="2147.8" x2="1022.7" y2="2147.8" stroke="#505050" stroke-width="1.3"/>
<text transform="translate(999.4 2151.6)" font-size="17.7" text-anchor="middle" letter-spacing="1">**</text>
<text transform="translate(945.6 1889.2) scale(1 1.04)" font-size="19.8" text-anchor="middle">Supernatant</text>
<text transform="translate(671 2071.2) rotate(-90) scale(1 1.04)" font-size="20" text-anchor="middle">Pyruvate RFU X 10<tspan font-size="13" dy="-8">3</tspan></text>
<text transform="translate(765.5 2249) rotate(-45) scale(1 1.04)" font-size="20.4" text-anchor="end">K562 day 3</text>
<text transform="translate(818.61 2249) rotate(-45) scale(1 1.04)" font-size="20.4" text-anchor="end">K562 GPT1 day 3</text>
<text transform="translate(871.72 2249) rotate(-45) scale(1 1.04)" font-size="20.4" text-anchor="end">K562+ Meds433 100 nM day 3</text>
<text transform="translate(924.83 2249) rotate(-45) scale(1 1.04)" font-size="20.4" text-anchor="end">K562 GPT1+ Meds433 100 nM day 3</text>
<text transform="translate(977.94 2249) rotate(-45) scale(1 1.04)" font-size="20.4" text-anchor="end">K552 day 2</text>
<text transform="translate(1031.05 2249) rotate(-45) scale(1 1.04)" font-size="20.4" text-anchor="end">K562 GPT1 day 2</text>
<text transform="translate(1084.16 2249) rotate(-45) scale(1 1.04)" font-size="20.4" text-anchor="end">K562+ Meds433 100 nM day 2</text>
<text transform="translate(1137.27 2249) rotate(-45) scale(1 1.04)" font-size="20.4" text-anchor="end">K562 GPT1+ Meds433 100 nM day 2</text>
</g>
<g id="panelI">
<text transform="translate(1265.5 1908.6) scale(1 1.08)" font-size="30.4" font-weight="bold" fill="#000">I</text>
<line x1="1388.3" y1="2127.8" x2="1388.3" y2="2132.9" stroke="#000" stroke-width="1.5"/>
<line x1="1379.8" y1="2127.8" x2="1396.8" y2="2127.8" stroke="#000" stroke-width="1.5"/>
<rect x="1371" y="2132.9" width="34.6" height="85.4" fill="#fcfcfc" stroke="#000" stroke-width="1.5"/>
<line x1="1441.36" y1="2135.8" x2="1441.36" y2="2136.9" stroke="#000" stroke-width="1.5"/>
<line x1="1432.86" y1="2135.8" x2="1449.86" y2="2135.8" stroke="#000" stroke-width="1.5"/>
<rect x="1424.06" y="2136.9" width="34.6" height="81.4" fill="#2059a6" stroke="#000" stroke-width="1.5"/>
<line x1="1494.42" y1="2059.6" x2="1494.42" y2="2080.4" stroke="#000" stroke-width="1.5"/>
<line x1="1485.92" y1="2059.6" x2="1502.92" y2="2059.6" stroke="#000" stroke-width="1.5"/>
<rect x="1477.12" y="2080.4" width="34.6" height="137.9" fill="#dae8f5" stroke="#000" stroke-width="1.5"/>
<line x1="1547.48" y1="2097" x2="1547.48" y2="2101" stroke="#000" stroke-width="1.5"/>
<line x1="1538.98" y1="2097" x2="1555.98" y2="2097" stroke="#000" stroke-width="1.5"/>
<rect x="1530.18" y="2101" width="34.6" height="117.3" fill="#17316f" stroke="#000" stroke-width="1.5"/>
<line x1="1600.54" y1="2138" x2="1600.54" y2="2140.6" stroke="#000" stroke-width="1.5"/>
<line x1="1592.04" y1="2138" x2="1609.04" y2="2138" stroke="#000" stroke-width="1.5"/>
<rect x="1583.24" y="2140.6" width="34.6" height="77.7" fill="#fcfcfc" stroke="#000" stroke-width="1.5"/>
<line x1="1653.6" y1="2143.5" x2="1653.6" y2="2145" stroke="#000" stroke-width="1.5"/>
<line x1="1645.1" y1="2143.5" x2="1662.1" y2="2143.5" stroke="#000" stroke-width="1.5"/>
<rect x="1636.3" y="2145" width="34.6" height="73.3" fill="#2059a6" stroke="#000" stroke-width="1.5"/>
<line x1="1706.66" y1="2095.6" x2="1706.66" y2="2101.8" stroke="#000" stroke-width="1.5"/>
<line x1="1698.16" y1="2095.6" x2="1715.16" y2="2095.6" stroke="#000" stroke-width="1.5"/>
<rect x="1689.36" y="2101.8" width="34.6" height="116.5" fill="#dae8f5" stroke="#000" stroke-width="1.5"/>
<line x1="1759.72" y1="2111.3" x2="1759.72" y2="2117.5" stroke="#000" stroke-width="1.5"/>
<line x1="1751.22" y1="2111.3" x2="1768.22" y2="2111.3" stroke="#000" stroke-width="1.5"/>
<rect x="1742.42" y="2117.5" width="34.6" height="100.8" fill="#17316f" stroke="#000" stroke-width="1.5"/>
<line x1="1352.7" y1="1921.5" x2="1352.7" y2="2219.7" stroke="#000" stroke-width="2.8"/>
<line x1="1339.9" y1="2218.3" x2="1797" y2="2218.3" stroke="#000" stroke-width="2.8"/>
<line x1="1340.7" y1="1922.9" x2="1352.7" y2="1922.9" stroke="#000" stroke-width="2.8"/>
<text transform="translate(1337 1928.72) scale(1 1.04)" font-size="19.6" text-anchor="end">20</text>
<line x1="1340.7" y1="1996.75" x2="1352.7" y2="1996.75" stroke="#000" stroke-width="2.8"/>
<text transform="translate(1337 2002.57) scale(1 1.04)" font-size="19.6" text-anchor="end">15</text>
<line x1="1340.7" y1="2070.6" x2="1352.7" y2="2070.6" stroke="#000" stroke-width="2.8"/>
<text transform="translate(1337 2076.42) scale(1 1.04)" font-size="19.6" text-anchor="end">10</text>
<line x1="1340.7" y1="2144.45" x2="1352.7" y2="2144.45" stroke="#000" stroke-width="2.8"/>
<text transform="translate(1337 2150.27) scale(1 1.04)" font-size="19.6" text-anchor="end">5</text>
<line x1="1340.7" y1="2218.3" x2="1352.7" y2="2218.3" stroke="#000" stroke-width="2.8"/>
<text transform="translate(1337 2224.12) scale(1 1.04)" font-size="19.6" text-anchor="end">0</text>
<line x1="1388.3" y1="2218.3" x2="1388.3" y2="2230.7" stroke="#000" stroke-width="2.8"/>
<line x1="1441.36" y1="2218.3" x2="1441.36" y2="2230.7" stroke="#000" stroke-width="2.8"/>
<line x1="1494.42" y1="2218.3" x2="1494.42" y2="2230.7" stroke="#000" stroke-width="2.8"/>
<line x1="1547.48" y1="2218.3" x2="1547.48" y2="2230.7" stroke="#000" stroke-width="2.8"/>
<line x1="1600.54" y1="2218.3" x2="1600.54" y2="2230.7" stroke="#000" stroke-width="2.8"/>
<line x1="1653.6" y1="2218.3" x2="1653.6" y2="2230.7" stroke="#000" stroke-width="2.8"/>
<line x1="1706.66" y1="2218.3" x2="1706.66" y2="2230.7" stroke="#000" stroke-width="2.8"/>
<line x1="1759.72" y1="2218.3" x2="1759.72" y2="2230.7" stroke="#000" stroke-width="2.8"/>
<line x1="1441.8" y1="2035.3" x2="1547.6" y2="2035.3" stroke="#505050" stroke-width="1.3"/>
<text transform="translate(1496.1 2039.1)" font-size="17.7" text-anchor="middle" letter-spacing="1">**</text>
<line x1="1388.3" y1="2054" x2="1494.1" y2="2054" stroke="#505050" stroke-width="1.3"/>
<text transform="translate(1443.7 2057.8)" font-size="17.7" text-anchor="middle" letter-spacing="1">*</text>
<line x1="1653.8" y1="2072.3" x2="1760.4" y2="2072.3" stroke="#505050" stroke-width="1.3"/>
<text transform="translate(1710.4 2076.1)" font-size="17.7" text-anchor="middle" letter-spacing="1">*</text>
<line x1="1601.1" y1="2089.6" x2="1705.9" y2="2089.6" stroke="#505050" stroke-width="1.3"/>
<text transform="translate(1654 2093.4)" font-size="17.7" text-anchor="middle" letter-spacing="1">**</text>
<text transform="translate(1574.4 1889.2) scale(1 1.04)" font-size="19.8" text-anchor="middle">Cell lysate</text>
<text transform="translate(1299.2 2071.2) rotate(-90) scale(1 1.04)" font-size="20" text-anchor="middle">Pyruvate RFU X 10<tspan font-size="13" dy="-8">3</tspan></text>
<text transform="translate(1393.7 2249.3) rotate(-45) scale(1 1.04)" font-size="20.4" text-anchor="end">K552 day 3</text>
<text transform="translate(1446.76 2249.3) rotate(-45) scale(1 1.04)" font-size="20.4" text-anchor="end">K562 GPT1 day 3</text>
<text transform="translate(1499.82 2249.3) rotate(-45) scale(1 1.04)" font-size="20.4" text-anchor="end">K562+ Meds433 100 nM day 3</text>
<text transform="translate(1552.88 2249.3) rotate(-45) scale(1 1.04)" font-size="20.4" text-anchor="end">K562 GPT1+ Meds433 100 nM day 3</text>
<text transform="translate(1605.94 2249.3) rotate(-45) scale(1 1.04)" font-size="20.4" text-anchor="end">K552 day 2</text>
<text transform="translate(1659 2249.3) rotate(-45) scale(1 1.04)" font-size="20.4" text-anchor="end">K562 GPT1 day 2</text>
<text transform="translate(1712.06 2249.3) rotate(-45) scale(1 1.04)" font-size="20.4" text-anchor="end">K562+ Meds433 100 nM day 2</text>
<text transform="translate(1765.12 2249.3) rotate(-45) scale(1 1.04)" font-size="20.4" text-anchor="end">K562 GPT1+ Meds433 100 nM day 2</text>
</g>
</svg>
</body>
</html>
